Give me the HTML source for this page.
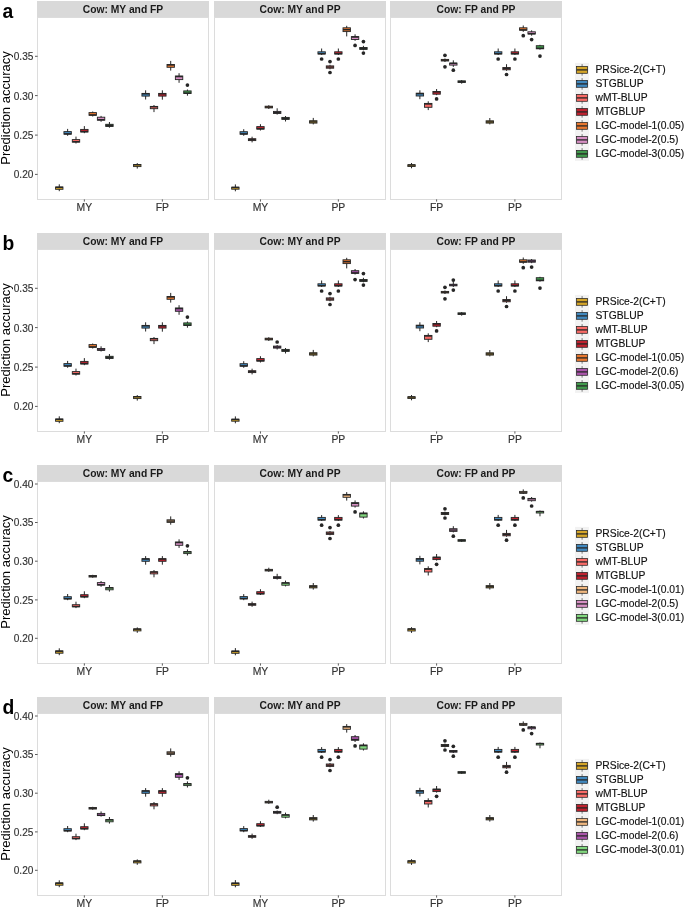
<!DOCTYPE html>
<html><head><meta charset="utf-8"><style>
html,body{margin:0;padding:0;background:#fff;}
svg{display:block;font-family:"Liberation Sans",sans-serif;will-change:transform;}
</style></head><body>
<svg width="685" height="908" viewBox="0 0 685 908">
<rect width="685" height="908" fill="#FFFFFF"/>
<text transform="translate(2.6 18.3) scale(1.0 1)" font-size="19.3" font-weight="bold" fill="#000">a</text>
<text transform="translate(10.2 108.0) rotate(-90)" text-anchor="middle" font-size="13" fill="#000">Prediction accuracy</text>
<rect x="37" y="1" width="172" height="16.5" fill="#D9D9D9"/>
<text x="123.0" y="12.9" text-anchor="middle" font-size="10.3" font-weight="bold" fill="#1A1A1A">Cow: MY and FP</text>
<rect x="37.5" y="17.5" width="171" height="182.0" fill="#FFF" stroke="#DCDCDC" stroke-width="1"/>
<line x1="84.35" y1="199.4" x2="84.35" y2="201.6" stroke="#333" stroke-width="0.8"/>
<text x="84.35" y="210.7" text-anchor="middle" font-size="10.4" fill="#333" stroke="#333" stroke-width="0.15">MY</text>
<line x1="162.35" y1="199.4" x2="162.35" y2="201.6" stroke="#333" stroke-width="0.8"/>
<text x="162.35" y="210.7" text-anchor="middle" font-size="10.4" fill="#333" stroke="#333" stroke-width="0.15">FP</text>
<line x1="59.27" y1="184.3" x2="59.27" y2="191.2" stroke="#262626" stroke-width="1.0"/>
<rect x="55.57" y="187.00" width="7.4" height="2.30" fill="#D4A528" stroke="#262626" stroke-width="0.9"/>
<line x1="55.62" y1="187.32" x2="62.92" y2="187.32" stroke="#262626" stroke-width="1.4"/>
<line x1="67.63" y1="128.9" x2="67.63" y2="135.8" stroke="#262626" stroke-width="1.0"/>
<rect x="63.93" y="131.60" width="7.4" height="2.60" fill="#4088BE" stroke="#262626" stroke-width="0.9"/>
<line x1="63.98" y1="133.80" x2="71.28" y2="133.80" stroke="#262626" stroke-width="1.4"/>
<line x1="75.99" y1="136.6" x2="75.99" y2="143.5" stroke="#262626" stroke-width="1.0"/>
<rect x="72.29" y="139.60" width="7.4" height="2.50" fill="#F96A66" stroke="#262626" stroke-width="0.9"/>
<line x1="72.34" y1="141.72" x2="79.64" y2="141.72" stroke="#262626" stroke-width="1.4"/>
<line x1="84.35" y1="126.1" x2="84.35" y2="133.2" stroke="#262626" stroke-width="1.0"/>
<rect x="80.65" y="129.40" width="7.4" height="2.60" fill="#BF212E" stroke="#262626" stroke-width="0.9"/>
<line x1="80.70" y1="131.60" x2="88.00" y2="131.60" stroke="#262626" stroke-width="1.4"/>
<line x1="92.71" y1="111.5" x2="92.71" y2="116.5" stroke="#262626" stroke-width="1.0"/>
<rect x="89.01" y="112.60" width="7.4" height="2.70" fill="#E7772F" stroke="#262626" stroke-width="0.9"/>
<line x1="89.06" y1="114.88" x2="96.36" y2="114.88" stroke="#262626" stroke-width="1.4"/>
<line x1="101.07" y1="115.9" x2="101.07" y2="121.8" stroke="#262626" stroke-width="1.0"/>
<rect x="97.37" y="117.20" width="7.4" height="3.00" fill="#D68FC3" stroke="#262626" stroke-width="0.9"/>
<line x1="97.42" y1="119.70" x2="104.72" y2="119.70" stroke="#262626" stroke-width="1.4"/>
<line x1="109.43" y1="122.0" x2="109.43" y2="127.7" stroke="#262626" stroke-width="1.0"/>
<rect x="105.73" y="124.30" width="7.4" height="2.20" fill="#40994B" stroke="#262626" stroke-width="0.9"/>
<line x1="105.78" y1="125.40" x2="113.08" y2="125.40" stroke="#262626" stroke-width="1.4"/>
<line x1="137.27" y1="163.1" x2="137.27" y2="168.6" stroke="#262626" stroke-width="1.0"/>
<rect x="133.57" y="164.50" width="7.4" height="2.10" fill="#D4A528" stroke="#262626" stroke-width="0.9"/>
<line x1="133.62" y1="164.78" x2="140.92" y2="164.78" stroke="#262626" stroke-width="1.4"/>
<line x1="145.63" y1="90.3" x2="145.63" y2="99.5" stroke="#262626" stroke-width="1.0"/>
<rect x="141.93" y="93.40" width="7.4" height="2.70" fill="#4088BE" stroke="#262626" stroke-width="0.9"/>
<line x1="141.98" y1="93.83" x2="149.28" y2="93.83" stroke="#262626" stroke-width="1.4"/>
<line x1="153.99" y1="105.0" x2="153.99" y2="112.1" stroke="#262626" stroke-width="1.0"/>
<rect x="150.29" y="106.40" width="7.4" height="2.30" fill="#F96A66" stroke="#262626" stroke-width="0.9"/>
<line x1="150.34" y1="106.73" x2="157.64" y2="106.73" stroke="#262626" stroke-width="1.4"/>
<line x1="162.35" y1="90.3" x2="162.35" y2="99.7" stroke="#262626" stroke-width="1.0"/>
<rect x="158.65" y="93.40" width="7.4" height="2.70" fill="#BF212E" stroke="#262626" stroke-width="0.9"/>
<line x1="158.70" y1="93.83" x2="166.00" y2="93.83" stroke="#262626" stroke-width="1.4"/>
<line x1="170.71" y1="60.9" x2="170.71" y2="70.6" stroke="#262626" stroke-width="1.0"/>
<rect x="167.01" y="64.50" width="7.4" height="2.80" fill="#E7772F" stroke="#262626" stroke-width="0.9"/>
<line x1="167.06" y1="64.95" x2="174.36" y2="64.95" stroke="#262626" stroke-width="1.4"/>
<line x1="179.07" y1="73.2" x2="179.07" y2="82.8" stroke="#262626" stroke-width="1.0"/>
<rect x="175.37" y="76.00" width="7.4" height="3.60" fill="#D68FC3" stroke="#262626" stroke-width="0.9"/>
<line x1="175.42" y1="76.60" x2="182.72" y2="76.60" stroke="#262626" stroke-width="1.4"/>
<line x1="187.43" y1="89.5" x2="187.43" y2="95.7" stroke="#262626" stroke-width="1.0"/>
<rect x="183.73" y="90.90" width="7.4" height="2.60" fill="#40994B" stroke="#262626" stroke-width="0.9"/>
<line x1="183.78" y1="93.10" x2="191.08" y2="93.10" stroke="#262626" stroke-width="1.4"/>
<circle cx="187.43" cy="85.1" r="1.85" fill="#262626"/>
<rect x="214" y="1" width="172" height="16.5" fill="#D9D9D9"/>
<text x="300.0" y="12.9" text-anchor="middle" font-size="10.3" font-weight="bold" fill="#1A1A1A">Cow: MY and PP</text>
<rect x="214.5" y="17.5" width="171" height="182.0" fill="#FFF" stroke="#DCDCDC" stroke-width="1"/>
<line x1="260.45" y1="199.4" x2="260.45" y2="201.6" stroke="#333" stroke-width="0.8"/>
<text x="260.45" y="210.7" text-anchor="middle" font-size="10.4" fill="#333" stroke="#333" stroke-width="0.15">MY</text>
<line x1="338.35" y1="199.4" x2="338.35" y2="201.6" stroke="#333" stroke-width="0.8"/>
<text x="338.35" y="210.7" text-anchor="middle" font-size="10.4" fill="#333" stroke="#333" stroke-width="0.15">PP</text>
<line x1="235.37" y1="184.4" x2="235.37" y2="191.3" stroke="#262626" stroke-width="1.0"/>
<rect x="231.67" y="187.20" width="7.4" height="2.00" fill="#D4A528" stroke="#262626" stroke-width="0.9"/>
<line x1="231.72" y1="187.45" x2="239.02" y2="187.45" stroke="#262626" stroke-width="1.4"/>
<line x1="243.73" y1="129.2" x2="243.73" y2="135.8" stroke="#262626" stroke-width="1.0"/>
<rect x="240.03" y="131.70" width="7.4" height="2.50" fill="#4088BE" stroke="#262626" stroke-width="0.9"/>
<line x1="240.08" y1="133.82" x2="247.38" y2="133.82" stroke="#262626" stroke-width="1.4"/>
<line x1="252.09" y1="136.7" x2="252.09" y2="142.4" stroke="#262626" stroke-width="1.0"/>
<rect x="248.39" y="138.70" width="7.4" height="1.90" fill="#F96A66" stroke="#262626" stroke-width="0.9"/>
<line x1="248.44" y1="139.65" x2="255.74" y2="139.65" stroke="#262626" stroke-width="1.4"/>
<line x1="260.45" y1="124.2" x2="260.45" y2="130.5" stroke="#262626" stroke-width="1.0"/>
<rect x="256.75" y="126.60" width="7.4" height="2.50" fill="#BF212E" stroke="#262626" stroke-width="0.9"/>
<line x1="256.80" y1="128.72" x2="264.10" y2="128.72" stroke="#262626" stroke-width="1.4"/>
<line x1="268.81" y1="105.2" x2="268.81" y2="109.0" stroke="#262626" stroke-width="1.0"/>
<rect x="265.11" y="106.20" width="7.4" height="1.70" fill="#E7772F" stroke="#262626" stroke-width="0.9"/>
<line x1="265.16" y1="107.05" x2="272.46" y2="107.05" stroke="#262626" stroke-width="1.4"/>
<line x1="277.17" y1="108.3" x2="277.17" y2="114.6" stroke="#262626" stroke-width="1.0"/>
<rect x="273.47" y="111.40" width="7.4" height="2.10" fill="#D68FC3" stroke="#262626" stroke-width="0.9"/>
<line x1="273.52" y1="112.45" x2="280.82" y2="112.45" stroke="#262626" stroke-width="1.4"/>
<line x1="285.53" y1="116.0" x2="285.53" y2="121.5" stroke="#262626" stroke-width="1.0"/>
<rect x="281.83" y="117.40" width="7.4" height="2.00" fill="#40994B" stroke="#262626" stroke-width="0.9"/>
<line x1="281.88" y1="118.40" x2="289.18" y2="118.40" stroke="#262626" stroke-width="1.4"/>
<line x1="313.27" y1="117.9" x2="313.27" y2="124.4" stroke="#262626" stroke-width="1.0"/>
<rect x="309.57" y="120.70" width="7.4" height="2.40" fill="#D4A528" stroke="#262626" stroke-width="0.9"/>
<line x1="309.62" y1="121.90" x2="316.92" y2="121.90" stroke="#262626" stroke-width="1.4"/>
<line x1="321.63" y1="48.5" x2="321.63" y2="55.0" stroke="#262626" stroke-width="1.0"/>
<rect x="317.93" y="51.80" width="7.4" height="2.20" fill="#4088BE" stroke="#262626" stroke-width="0.9"/>
<line x1="317.98" y1="53.70" x2="325.28" y2="53.70" stroke="#262626" stroke-width="1.4"/>
<circle cx="321.63" cy="59.0" r="1.85" fill="#262626"/>
<line x1="329.99" y1="64.8" x2="329.99" y2="69.3" stroke="#262626" stroke-width="1.0"/>
<rect x="326.29" y="65.90" width="7.4" height="2.30" fill="#F96A66" stroke="#262626" stroke-width="0.9"/>
<line x1="326.34" y1="67.05" x2="333.64" y2="67.05" stroke="#262626" stroke-width="1.4"/>
<circle cx="329.99" cy="61.6" r="1.85" fill="#262626"/>
<circle cx="329.99" cy="72.5" r="1.85" fill="#262626"/>
<line x1="338.35" y1="48.5" x2="338.35" y2="55.0" stroke="#262626" stroke-width="1.0"/>
<rect x="334.65" y="51.80" width="7.4" height="2.20" fill="#BF212E" stroke="#262626" stroke-width="0.9"/>
<line x1="334.70" y1="53.70" x2="342.00" y2="53.70" stroke="#262626" stroke-width="1.4"/>
<circle cx="338.35" cy="59.0" r="1.85" fill="#262626"/>
<line x1="346.71" y1="25.8" x2="346.71" y2="36.4" stroke="#262626" stroke-width="1.0"/>
<rect x="343.01" y="27.80" width="7.4" height="3.80" fill="#E7772F" stroke="#262626" stroke-width="0.9"/>
<line x1="343.06" y1="29.70" x2="350.36" y2="29.70" stroke="#262626" stroke-width="1.4"/>
<line x1="355.07" y1="34.3" x2="355.07" y2="40.8" stroke="#262626" stroke-width="1.0"/>
<rect x="351.37" y="36.60" width="7.4" height="2.90" fill="#D68FC3" stroke="#262626" stroke-width="0.9"/>
<line x1="351.42" y1="37.08" x2="358.72" y2="37.08" stroke="#262626" stroke-width="1.4"/>
<circle cx="355.07" cy="45.4" r="1.85" fill="#262626"/>
<line x1="363.43" y1="45.8" x2="363.43" y2="50.3" stroke="#262626" stroke-width="1.0"/>
<rect x="359.73" y="47.50" width="7.4" height="1.90" fill="#40994B" stroke="#262626" stroke-width="0.9"/>
<line x1="359.78" y1="48.45" x2="367.08" y2="48.45" stroke="#262626" stroke-width="1.4"/>
<circle cx="363.43" cy="41.6" r="1.85" fill="#262626"/>
<circle cx="363.43" cy="53.1" r="1.85" fill="#262626"/>
<rect x="390" y="1" width="172" height="16.5" fill="#D9D9D9"/>
<text x="476.0" y="12.9" text-anchor="middle" font-size="10.3" font-weight="bold" fill="#1A1A1A">Cow: FP and PP</text>
<rect x="390.5" y="17.5" width="171" height="182.0" fill="#FFF" stroke="#DCDCDC" stroke-width="1"/>
<line x1="436.60" y1="199.4" x2="436.60" y2="201.6" stroke="#333" stroke-width="0.8"/>
<text x="436.60" y="210.7" text-anchor="middle" font-size="10.4" fill="#333" stroke="#333" stroke-width="0.15">FP</text>
<line x1="514.90" y1="199.4" x2="514.90" y2="201.6" stroke="#333" stroke-width="0.8"/>
<text x="514.90" y="210.7" text-anchor="middle" font-size="10.4" fill="#333" stroke="#333" stroke-width="0.15">PP</text>
<line x1="411.52" y1="163.0" x2="411.52" y2="168.3" stroke="#262626" stroke-width="1.0"/>
<rect x="407.82" y="164.80" width="7.4" height="1.70" fill="#D4A528" stroke="#262626" stroke-width="0.9"/>
<line x1="407.87" y1="164.98" x2="415.17" y2="164.98" stroke="#262626" stroke-width="1.4"/>
<line x1="419.88" y1="90.3" x2="419.88" y2="99.2" stroke="#262626" stroke-width="1.0"/>
<rect x="416.18" y="93.20" width="7.4" height="2.80" fill="#4088BE" stroke="#262626" stroke-width="0.9"/>
<line x1="416.23" y1="93.65" x2="423.53" y2="93.65" stroke="#262626" stroke-width="1.4"/>
<line x1="428.24" y1="101.3" x2="428.24" y2="110.1" stroke="#262626" stroke-width="1.0"/>
<rect x="424.54" y="103.40" width="7.4" height="3.90" fill="#F96A66" stroke="#262626" stroke-width="0.9"/>
<line x1="424.59" y1="104.00" x2="431.89" y2="104.00" stroke="#262626" stroke-width="1.4"/>
<line x1="436.60" y1="89.0" x2="436.60" y2="95.2" stroke="#262626" stroke-width="1.0"/>
<rect x="432.90" y="91.50" width="7.4" height="2.70" fill="#BF212E" stroke="#262626" stroke-width="0.9"/>
<line x1="432.95" y1="91.92" x2="440.25" y2="91.92" stroke="#262626" stroke-width="1.4"/>
<circle cx="436.60" cy="98.9" r="1.85" fill="#262626"/>
<line x1="444.96" y1="58.5" x2="444.96" y2="62.0" stroke="#262626" stroke-width="1.0"/>
<rect x="441.26" y="59.40" width="7.4" height="1.60" fill="#E7772F" stroke="#262626" stroke-width="0.9"/>
<line x1="441.31" y1="60.20" x2="448.61" y2="60.20" stroke="#262626" stroke-width="1.4"/>
<circle cx="444.96" cy="55.3" r="1.85" fill="#262626"/>
<circle cx="444.96" cy="66.8" r="1.85" fill="#262626"/>
<line x1="453.32" y1="60.3" x2="453.32" y2="66.9" stroke="#262626" stroke-width="1.0"/>
<rect x="449.62" y="63.10" width="7.4" height="2.00" fill="#D68FC3" stroke="#262626" stroke-width="0.9"/>
<line x1="449.67" y1="63.35" x2="456.97" y2="63.35" stroke="#262626" stroke-width="1.4"/>
<circle cx="453.32" cy="70.2" r="1.85" fill="#262626"/>
<line x1="461.68" y1="80.0" x2="461.68" y2="83.7" stroke="#262626" stroke-width="1.0"/>
<rect x="457.98" y="80.85" width="7.4" height="1.60" fill="#40994B" stroke="#262626" stroke-width="0.9"/>
<line x1="458.03" y1="81.65" x2="465.33" y2="81.65" stroke="#262626" stroke-width="1.4"/>
<line x1="489.82" y1="118.0" x2="489.82" y2="124.4" stroke="#262626" stroke-width="1.0"/>
<rect x="486.12" y="120.80" width="7.4" height="2.30" fill="#D4A528" stroke="#262626" stroke-width="0.9"/>
<line x1="486.17" y1="121.95" x2="493.47" y2="121.95" stroke="#262626" stroke-width="1.4"/>
<line x1="498.18" y1="48.5" x2="498.18" y2="55.0" stroke="#262626" stroke-width="1.0"/>
<rect x="494.48" y="51.80" width="7.4" height="2.20" fill="#4088BE" stroke="#262626" stroke-width="0.9"/>
<line x1="494.53" y1="53.70" x2="501.83" y2="53.70" stroke="#262626" stroke-width="1.4"/>
<circle cx="498.18" cy="59.0" r="1.85" fill="#262626"/>
<line x1="506.54" y1="64.2" x2="506.54" y2="70.8" stroke="#262626" stroke-width="1.0"/>
<rect x="502.84" y="67.50" width="7.4" height="2.30" fill="#F96A66" stroke="#262626" stroke-width="0.9"/>
<line x1="502.89" y1="68.65" x2="510.19" y2="68.65" stroke="#262626" stroke-width="1.4"/>
<circle cx="506.54" cy="74.5" r="1.85" fill="#262626"/>
<line x1="514.90" y1="48.5" x2="514.90" y2="55.0" stroke="#262626" stroke-width="1.0"/>
<rect x="511.20" y="51.80" width="7.4" height="2.20" fill="#BF212E" stroke="#262626" stroke-width="0.9"/>
<line x1="511.25" y1="53.70" x2="518.55" y2="53.70" stroke="#262626" stroke-width="1.4"/>
<circle cx="514.90" cy="59.0" r="1.85" fill="#262626"/>
<line x1="523.26" y1="25.5" x2="523.26" y2="31.8" stroke="#262626" stroke-width="1.0"/>
<rect x="519.56" y="27.80" width="7.4" height="2.40" fill="#E7772F" stroke="#262626" stroke-width="0.9"/>
<line x1="519.61" y1="29.85" x2="526.91" y2="29.85" stroke="#262626" stroke-width="1.4"/>
<circle cx="523.26" cy="35.7" r="1.85" fill="#262626"/>
<line x1="531.62" y1="30.3" x2="531.62" y2="35.7" stroke="#262626" stroke-width="1.0"/>
<rect x="527.92" y="31.80" width="7.4" height="2.20" fill="#D68FC3" stroke="#262626" stroke-width="0.9"/>
<line x1="527.97" y1="33.70" x2="535.27" y2="33.70" stroke="#262626" stroke-width="1.4"/>
<circle cx="531.62" cy="39.6" r="1.85" fill="#262626"/>
<line x1="539.98" y1="44.8" x2="539.98" y2="49.7" stroke="#262626" stroke-width="1.0"/>
<rect x="536.28" y="45.70" width="7.4" height="3.10" fill="#40994B" stroke="#262626" stroke-width="0.9"/>
<line x1="536.33" y1="48.27" x2="543.63" y2="48.27" stroke="#262626" stroke-width="1.4"/>
<circle cx="539.98" cy="56.1" r="1.85" fill="#262626"/>
<line x1="35" y1="174.4" x2="37.6" y2="174.4" stroke="#333" stroke-width="0.8"/>
<text x="33.4" y="178.35" text-anchor="end" font-size="10.1" fill="#333" stroke="#333" stroke-width="0.15">0.20</text>
<line x1="35" y1="135.1" x2="37.6" y2="135.1" stroke="#333" stroke-width="0.8"/>
<text x="33.4" y="139.05" text-anchor="end" font-size="10.1" fill="#333" stroke="#333" stroke-width="0.15">0.25</text>
<line x1="35" y1="95.6" x2="37.6" y2="95.6" stroke="#333" stroke-width="0.8"/>
<text x="33.4" y="99.55" text-anchor="end" font-size="10.1" fill="#333" stroke="#333" stroke-width="0.15">0.30</text>
<line x1="35" y1="56.3" x2="37.6" y2="56.3" stroke="#333" stroke-width="0.8"/>
<text x="33.4" y="60.25" text-anchor="end" font-size="10.1" fill="#333" stroke="#333" stroke-width="0.15">0.35</text>
<rect x="575" y="62.9" width="14" height="14" fill="#F2F2F2"/>
<line x1="582.1" y1="64.1" x2="582.1" y2="75.7" stroke="#555" stroke-width="0.75"/>
<rect x="576.6" y="66.4" width="11" height="6.9" fill="#D4A528" stroke="#262626" stroke-width="0.75"/>
<line x1="576.6" y1="69.9" x2="587.6" y2="69.9" stroke="#262626" stroke-width="1.3"/>
<text x="595.5" y="73.05" font-size="10.3" fill="#111" stroke="#111" stroke-width="0.15">PRSice-2(C+T)</text>
<rect x="575" y="76.9" width="14" height="14" fill="#F2F2F2"/>
<line x1="582.1" y1="78.1" x2="582.1" y2="89.7" stroke="#555" stroke-width="0.75"/>
<rect x="576.6" y="80.4" width="11" height="6.9" fill="#4088BE" stroke="#262626" stroke-width="0.75"/>
<line x1="576.6" y1="83.9" x2="587.6" y2="83.9" stroke="#262626" stroke-width="1.3"/>
<text x="595.5" y="87.05" font-size="10.3" fill="#111" stroke="#111" stroke-width="0.15">STGBLUP</text>
<rect x="575" y="90.9" width="14" height="14" fill="#F2F2F2"/>
<line x1="582.1" y1="92.1" x2="582.1" y2="103.7" stroke="#555" stroke-width="0.75"/>
<rect x="576.6" y="94.4" width="11" height="6.9" fill="#F96A66" stroke="#262626" stroke-width="0.75"/>
<line x1="576.6" y1="97.9" x2="587.6" y2="97.9" stroke="#262626" stroke-width="1.3"/>
<text x="595.5" y="101.05" font-size="10.3" fill="#111" stroke="#111" stroke-width="0.15">wMT-BLUP</text>
<rect x="575" y="104.9" width="14" height="14" fill="#F2F2F2"/>
<line x1="582.1" y1="106.1" x2="582.1" y2="117.7" stroke="#555" stroke-width="0.75"/>
<rect x="576.6" y="108.4" width="11" height="6.9" fill="#BF212E" stroke="#262626" stroke-width="0.75"/>
<line x1="576.6" y1="111.9" x2="587.6" y2="111.9" stroke="#262626" stroke-width="1.3"/>
<text x="595.5" y="115.05" font-size="10.3" fill="#111" stroke="#111" stroke-width="0.15">MTGBLUP</text>
<rect x="575" y="118.9" width="14" height="14" fill="#F2F2F2"/>
<line x1="582.1" y1="120.1" x2="582.1" y2="131.7" stroke="#555" stroke-width="0.75"/>
<rect x="576.6" y="122.4" width="11" height="6.9" fill="#E7772F" stroke="#262626" stroke-width="0.75"/>
<line x1="576.6" y1="125.9" x2="587.6" y2="125.9" stroke="#262626" stroke-width="1.3"/>
<text x="595.5" y="129.05" font-size="10.3" fill="#111" stroke="#111" stroke-width="0.15">LGC-model-1(0.05)</text>
<rect x="575" y="132.9" width="14" height="14" fill="#F2F2F2"/>
<line x1="582.1" y1="134.1" x2="582.1" y2="145.7" stroke="#555" stroke-width="0.75"/>
<rect x="576.6" y="136.4" width="11" height="6.9" fill="#D68FC3" stroke="#262626" stroke-width="0.75"/>
<line x1="576.6" y1="139.9" x2="587.6" y2="139.9" stroke="#262626" stroke-width="1.3"/>
<text x="595.5" y="143.05" font-size="10.3" fill="#111" stroke="#111" stroke-width="0.15">LGC-model-2(0.5)</text>
<rect x="575" y="146.9" width="14" height="14" fill="#F2F2F2"/>
<line x1="582.1" y1="148.1" x2="582.1" y2="159.7" stroke="#555" stroke-width="0.75"/>
<rect x="576.6" y="150.4" width="11" height="6.9" fill="#40994B" stroke="#262626" stroke-width="0.75"/>
<line x1="576.6" y1="153.9" x2="587.6" y2="153.9" stroke="#262626" stroke-width="1.3"/>
<text x="595.5" y="157.05" font-size="10.3" fill="#111" stroke="#111" stroke-width="0.15">LGC-model-3(0.05)</text>
<text transform="translate(2.6 250.3) scale(1.0 1)" font-size="19.3" font-weight="bold" fill="#000">b</text>
<text transform="translate(10.2 340.0) rotate(-90)" text-anchor="middle" font-size="13" fill="#000">Prediction accuracy</text>
<rect x="37" y="233" width="172" height="16.5" fill="#D9D9D9"/>
<text x="123.0" y="244.9" text-anchor="middle" font-size="10.3" font-weight="bold" fill="#1A1A1A">Cow: MY and FP</text>
<rect x="37.5" y="249.5" width="171" height="182.0" fill="#FFF" stroke="#DCDCDC" stroke-width="1"/>
<line x1="84.35" y1="431.4" x2="84.35" y2="433.6" stroke="#333" stroke-width="0.8"/>
<text x="84.35" y="442.7" text-anchor="middle" font-size="10.4" fill="#333" stroke="#333" stroke-width="0.15">MY</text>
<line x1="162.35" y1="431.4" x2="162.35" y2="433.6" stroke="#333" stroke-width="0.8"/>
<text x="162.35" y="442.7" text-anchor="middle" font-size="10.4" fill="#333" stroke="#333" stroke-width="0.15">FP</text>
<line x1="59.27" y1="416.3" x2="59.27" y2="423.2" stroke="#262626" stroke-width="1.0"/>
<rect x="55.57" y="419.00" width="7.4" height="2.30" fill="#D4A528" stroke="#262626" stroke-width="0.9"/>
<line x1="55.62" y1="419.32" x2="62.92" y2="419.32" stroke="#262626" stroke-width="1.4"/>
<line x1="67.63" y1="360.9" x2="67.63" y2="367.8" stroke="#262626" stroke-width="1.0"/>
<rect x="63.93" y="363.60" width="7.4" height="2.60" fill="#4088BE" stroke="#262626" stroke-width="0.9"/>
<line x1="63.98" y1="365.80" x2="71.28" y2="365.80" stroke="#262626" stroke-width="1.4"/>
<line x1="75.99" y1="368.6" x2="75.99" y2="375.5" stroke="#262626" stroke-width="1.0"/>
<rect x="72.29" y="371.60" width="7.4" height="2.50" fill="#F96A66" stroke="#262626" stroke-width="0.9"/>
<line x1="72.34" y1="373.73" x2="79.64" y2="373.73" stroke="#262626" stroke-width="1.4"/>
<line x1="84.35" y1="358.1" x2="84.35" y2="365.2" stroke="#262626" stroke-width="1.0"/>
<rect x="80.65" y="361.40" width="7.4" height="2.60" fill="#BF212E" stroke="#262626" stroke-width="0.9"/>
<line x1="80.70" y1="363.60" x2="88.00" y2="363.60" stroke="#262626" stroke-width="1.4"/>
<line x1="92.71" y1="343.5" x2="92.71" y2="348.5" stroke="#262626" stroke-width="1.0"/>
<rect x="89.01" y="344.60" width="7.4" height="2.70" fill="#E7772F" stroke="#262626" stroke-width="0.9"/>
<line x1="89.06" y1="346.88" x2="96.36" y2="346.88" stroke="#262626" stroke-width="1.4"/>
<line x1="101.07" y1="346.3" x2="101.07" y2="351.5" stroke="#262626" stroke-width="1.0"/>
<rect x="97.37" y="348.50" width="7.4" height="1.70" fill="#AA55AA" stroke="#262626" stroke-width="0.9"/>
<line x1="97.42" y1="350.02" x2="104.72" y2="350.02" stroke="#262626" stroke-width="1.4"/>
<line x1="109.43" y1="354.0" x2="109.43" y2="359.7" stroke="#262626" stroke-width="1.0"/>
<rect x="105.73" y="356.30" width="7.4" height="2.20" fill="#40994B" stroke="#262626" stroke-width="0.9"/>
<line x1="105.78" y1="357.40" x2="113.08" y2="357.40" stroke="#262626" stroke-width="1.4"/>
<line x1="137.27" y1="395.1" x2="137.27" y2="400.6" stroke="#262626" stroke-width="1.0"/>
<rect x="133.57" y="396.50" width="7.4" height="2.10" fill="#D4A528" stroke="#262626" stroke-width="0.9"/>
<line x1="133.62" y1="396.77" x2="140.92" y2="396.77" stroke="#262626" stroke-width="1.4"/>
<line x1="145.63" y1="322.3" x2="145.63" y2="331.5" stroke="#262626" stroke-width="1.0"/>
<rect x="141.93" y="325.40" width="7.4" height="2.70" fill="#4088BE" stroke="#262626" stroke-width="0.9"/>
<line x1="141.98" y1="325.82" x2="149.28" y2="325.82" stroke="#262626" stroke-width="1.4"/>
<line x1="153.99" y1="337.0" x2="153.99" y2="344.1" stroke="#262626" stroke-width="1.0"/>
<rect x="150.29" y="338.40" width="7.4" height="2.30" fill="#F96A66" stroke="#262626" stroke-width="0.9"/>
<line x1="150.34" y1="338.72" x2="157.64" y2="338.72" stroke="#262626" stroke-width="1.4"/>
<line x1="162.35" y1="322.3" x2="162.35" y2="331.7" stroke="#262626" stroke-width="1.0"/>
<rect x="158.65" y="325.40" width="7.4" height="2.70" fill="#BF212E" stroke="#262626" stroke-width="0.9"/>
<line x1="158.70" y1="325.82" x2="166.00" y2="325.82" stroke="#262626" stroke-width="1.4"/>
<line x1="170.71" y1="292.9" x2="170.71" y2="302.6" stroke="#262626" stroke-width="1.0"/>
<rect x="167.01" y="296.50" width="7.4" height="2.80" fill="#E7772F" stroke="#262626" stroke-width="0.9"/>
<line x1="167.06" y1="296.95" x2="174.36" y2="296.95" stroke="#262626" stroke-width="1.4"/>
<line x1="179.07" y1="305.2" x2="179.07" y2="314.8" stroke="#262626" stroke-width="1.0"/>
<rect x="175.37" y="308.00" width="7.4" height="3.30" fill="#AA55AA" stroke="#262626" stroke-width="0.9"/>
<line x1="175.42" y1="308.57" x2="182.72" y2="308.57" stroke="#262626" stroke-width="1.4"/>
<line x1="187.43" y1="321.5" x2="187.43" y2="327.7" stroke="#262626" stroke-width="1.0"/>
<rect x="183.73" y="322.90" width="7.4" height="2.60" fill="#40994B" stroke="#262626" stroke-width="0.9"/>
<line x1="183.78" y1="325.10" x2="191.08" y2="325.10" stroke="#262626" stroke-width="1.4"/>
<circle cx="187.43" cy="317.1" r="1.85" fill="#262626"/>
<rect x="214" y="233" width="172" height="16.5" fill="#D9D9D9"/>
<text x="300.0" y="244.9" text-anchor="middle" font-size="10.3" font-weight="bold" fill="#1A1A1A">Cow: MY and PP</text>
<rect x="214.5" y="249.5" width="171" height="182.0" fill="#FFF" stroke="#DCDCDC" stroke-width="1"/>
<line x1="260.45" y1="431.4" x2="260.45" y2="433.6" stroke="#333" stroke-width="0.8"/>
<text x="260.45" y="442.7" text-anchor="middle" font-size="10.4" fill="#333" stroke="#333" stroke-width="0.15">MY</text>
<line x1="338.35" y1="431.4" x2="338.35" y2="433.6" stroke="#333" stroke-width="0.8"/>
<text x="338.35" y="442.7" text-anchor="middle" font-size="10.4" fill="#333" stroke="#333" stroke-width="0.15">PP</text>
<line x1="235.37" y1="416.4" x2="235.37" y2="423.3" stroke="#262626" stroke-width="1.0"/>
<rect x="231.67" y="419.20" width="7.4" height="2.00" fill="#D4A528" stroke="#262626" stroke-width="0.9"/>
<line x1="231.72" y1="419.45" x2="239.02" y2="419.45" stroke="#262626" stroke-width="1.4"/>
<line x1="243.73" y1="361.2" x2="243.73" y2="367.8" stroke="#262626" stroke-width="1.0"/>
<rect x="240.03" y="363.70" width="7.4" height="2.50" fill="#4088BE" stroke="#262626" stroke-width="0.9"/>
<line x1="240.08" y1="365.82" x2="247.38" y2="365.82" stroke="#262626" stroke-width="1.4"/>
<line x1="252.09" y1="368.7" x2="252.09" y2="374.4" stroke="#262626" stroke-width="1.0"/>
<rect x="248.39" y="370.70" width="7.4" height="1.90" fill="#F96A66" stroke="#262626" stroke-width="0.9"/>
<line x1="248.44" y1="371.65" x2="255.74" y2="371.65" stroke="#262626" stroke-width="1.4"/>
<line x1="260.45" y1="356.2" x2="260.45" y2="362.5" stroke="#262626" stroke-width="1.0"/>
<rect x="256.75" y="358.60" width="7.4" height="2.50" fill="#BF212E" stroke="#262626" stroke-width="0.9"/>
<line x1="256.80" y1="360.73" x2="264.10" y2="360.73" stroke="#262626" stroke-width="1.4"/>
<line x1="268.81" y1="337.2" x2="268.81" y2="341.0" stroke="#262626" stroke-width="1.0"/>
<rect x="265.11" y="338.20" width="7.4" height="1.70" fill="#E7772F" stroke="#262626" stroke-width="0.9"/>
<line x1="265.16" y1="339.05" x2="272.46" y2="339.05" stroke="#262626" stroke-width="1.4"/>
<line x1="277.17" y1="345.0" x2="277.17" y2="349.5" stroke="#262626" stroke-width="1.0"/>
<rect x="273.47" y="346.10" width="7.4" height="2.00" fill="#AA55AA" stroke="#262626" stroke-width="0.9"/>
<line x1="273.52" y1="347.10" x2="280.82" y2="347.10" stroke="#262626" stroke-width="1.4"/>
<circle cx="277.17" cy="342.0" r="1.85" fill="#262626"/>
<line x1="285.53" y1="348.0" x2="285.53" y2="353.5" stroke="#262626" stroke-width="1.0"/>
<rect x="281.83" y="349.40" width="7.4" height="2.00" fill="#40994B" stroke="#262626" stroke-width="0.9"/>
<line x1="281.88" y1="350.40" x2="289.18" y2="350.40" stroke="#262626" stroke-width="1.4"/>
<line x1="313.27" y1="349.9" x2="313.27" y2="356.4" stroke="#262626" stroke-width="1.0"/>
<rect x="309.57" y="352.70" width="7.4" height="2.40" fill="#D4A528" stroke="#262626" stroke-width="0.9"/>
<line x1="309.62" y1="353.90" x2="316.92" y2="353.90" stroke="#262626" stroke-width="1.4"/>
<line x1="321.63" y1="280.5" x2="321.63" y2="287.0" stroke="#262626" stroke-width="1.0"/>
<rect x="317.93" y="283.80" width="7.4" height="2.20" fill="#4088BE" stroke="#262626" stroke-width="0.9"/>
<line x1="317.98" y1="285.70" x2="325.28" y2="285.70" stroke="#262626" stroke-width="1.4"/>
<circle cx="321.63" cy="291.0" r="1.85" fill="#262626"/>
<line x1="329.99" y1="296.8" x2="329.99" y2="301.3" stroke="#262626" stroke-width="1.0"/>
<rect x="326.29" y="297.90" width="7.4" height="2.30" fill="#F96A66" stroke="#262626" stroke-width="0.9"/>
<line x1="326.34" y1="299.05" x2="333.64" y2="299.05" stroke="#262626" stroke-width="1.4"/>
<circle cx="329.99" cy="293.6" r="1.85" fill="#262626"/>
<circle cx="329.99" cy="304.5" r="1.85" fill="#262626"/>
<line x1="338.35" y1="280.5" x2="338.35" y2="287.0" stroke="#262626" stroke-width="1.0"/>
<rect x="334.65" y="283.80" width="7.4" height="2.20" fill="#BF212E" stroke="#262626" stroke-width="0.9"/>
<line x1="334.70" y1="285.70" x2="342.00" y2="285.70" stroke="#262626" stroke-width="1.4"/>
<circle cx="338.35" cy="291.0" r="1.85" fill="#262626"/>
<line x1="346.71" y1="257.8" x2="346.71" y2="268.4" stroke="#262626" stroke-width="1.0"/>
<rect x="343.01" y="259.80" width="7.4" height="3.80" fill="#E7772F" stroke="#262626" stroke-width="0.9"/>
<line x1="343.06" y1="261.70" x2="350.36" y2="261.70" stroke="#262626" stroke-width="1.4"/>
<line x1="355.07" y1="269.0" x2="355.07" y2="274.5" stroke="#262626" stroke-width="1.0"/>
<rect x="351.37" y="270.70" width="7.4" height="2.60" fill="#AA55AA" stroke="#262626" stroke-width="0.9"/>
<line x1="351.42" y1="272.90" x2="358.72" y2="272.90" stroke="#262626" stroke-width="1.4"/>
<circle cx="355.07" cy="279.6" r="1.85" fill="#262626"/>
<line x1="363.43" y1="277.8" x2="363.43" y2="282.3" stroke="#262626" stroke-width="1.0"/>
<rect x="359.73" y="279.50" width="7.4" height="1.90" fill="#40994B" stroke="#262626" stroke-width="0.9"/>
<line x1="359.78" y1="280.45" x2="367.08" y2="280.45" stroke="#262626" stroke-width="1.4"/>
<circle cx="363.43" cy="273.6" r="1.85" fill="#262626"/>
<circle cx="363.43" cy="285.1" r="1.85" fill="#262626"/>
<rect x="390" y="233" width="172" height="16.5" fill="#D9D9D9"/>
<text x="476.0" y="244.9" text-anchor="middle" font-size="10.3" font-weight="bold" fill="#1A1A1A">Cow: FP and PP</text>
<rect x="390.5" y="249.5" width="171" height="182.0" fill="#FFF" stroke="#DCDCDC" stroke-width="1"/>
<line x1="436.60" y1="431.4" x2="436.60" y2="433.6" stroke="#333" stroke-width="0.8"/>
<text x="436.60" y="442.7" text-anchor="middle" font-size="10.4" fill="#333" stroke="#333" stroke-width="0.15">FP</text>
<line x1="514.90" y1="431.4" x2="514.90" y2="433.6" stroke="#333" stroke-width="0.8"/>
<text x="514.90" y="442.7" text-anchor="middle" font-size="10.4" fill="#333" stroke="#333" stroke-width="0.15">PP</text>
<line x1="411.52" y1="395.0" x2="411.52" y2="400.3" stroke="#262626" stroke-width="1.0"/>
<rect x="407.82" y="396.80" width="7.4" height="1.70" fill="#D4A528" stroke="#262626" stroke-width="0.9"/>
<line x1="407.87" y1="396.98" x2="415.17" y2="396.98" stroke="#262626" stroke-width="1.4"/>
<line x1="419.88" y1="322.3" x2="419.88" y2="331.2" stroke="#262626" stroke-width="1.0"/>
<rect x="416.18" y="325.20" width="7.4" height="2.80" fill="#4088BE" stroke="#262626" stroke-width="0.9"/>
<line x1="416.23" y1="325.65" x2="423.53" y2="325.65" stroke="#262626" stroke-width="1.4"/>
<line x1="428.24" y1="333.3" x2="428.24" y2="342.1" stroke="#262626" stroke-width="1.0"/>
<rect x="424.54" y="335.40" width="7.4" height="3.90" fill="#F96A66" stroke="#262626" stroke-width="0.9"/>
<line x1="424.59" y1="336.00" x2="431.89" y2="336.00" stroke="#262626" stroke-width="1.4"/>
<line x1="436.60" y1="321.0" x2="436.60" y2="327.2" stroke="#262626" stroke-width="1.0"/>
<rect x="432.90" y="323.50" width="7.4" height="2.70" fill="#BF212E" stroke="#262626" stroke-width="0.9"/>
<line x1="432.95" y1="323.93" x2="440.25" y2="323.93" stroke="#262626" stroke-width="1.4"/>
<circle cx="436.60" cy="330.9" r="1.85" fill="#262626"/>
<line x1="444.96" y1="290.5" x2="444.96" y2="294.0" stroke="#262626" stroke-width="1.0"/>
<rect x="441.26" y="291.40" width="7.4" height="1.60" fill="#E7772F" stroke="#262626" stroke-width="0.9"/>
<line x1="441.31" y1="292.20" x2="448.61" y2="292.20" stroke="#262626" stroke-width="1.4"/>
<circle cx="444.96" cy="287.3" r="1.85" fill="#262626"/>
<circle cx="444.96" cy="298.8" r="1.85" fill="#262626"/>
<line x1="453.32" y1="281.5" x2="453.32" y2="287.0" stroke="#262626" stroke-width="1.0"/>
<rect x="449.62" y="284.25" width="7.4" height="1.60" fill="#AA55AA" stroke="#262626" stroke-width="0.9"/>
<line x1="449.67" y1="285.05" x2="456.97" y2="285.05" stroke="#262626" stroke-width="1.4"/>
<circle cx="453.32" cy="280.1" r="1.85" fill="#262626"/>
<circle cx="453.32" cy="290.1" r="1.85" fill="#262626"/>
<line x1="461.68" y1="312.0" x2="461.68" y2="315.7" stroke="#262626" stroke-width="1.0"/>
<rect x="457.98" y="312.85" width="7.4" height="1.60" fill="#40994B" stroke="#262626" stroke-width="0.9"/>
<line x1="458.03" y1="313.65" x2="465.33" y2="313.65" stroke="#262626" stroke-width="1.4"/>
<line x1="489.82" y1="350.0" x2="489.82" y2="356.4" stroke="#262626" stroke-width="1.0"/>
<rect x="486.12" y="352.80" width="7.4" height="2.30" fill="#D4A528" stroke="#262626" stroke-width="0.9"/>
<line x1="486.17" y1="353.95" x2="493.47" y2="353.95" stroke="#262626" stroke-width="1.4"/>
<line x1="498.18" y1="280.5" x2="498.18" y2="287.0" stroke="#262626" stroke-width="1.0"/>
<rect x="494.48" y="283.80" width="7.4" height="2.20" fill="#4088BE" stroke="#262626" stroke-width="0.9"/>
<line x1="494.53" y1="285.70" x2="501.83" y2="285.70" stroke="#262626" stroke-width="1.4"/>
<circle cx="498.18" cy="291.0" r="1.85" fill="#262626"/>
<line x1="506.54" y1="296.2" x2="506.54" y2="302.8" stroke="#262626" stroke-width="1.0"/>
<rect x="502.84" y="299.50" width="7.4" height="2.30" fill="#F96A66" stroke="#262626" stroke-width="0.9"/>
<line x1="502.89" y1="300.65" x2="510.19" y2="300.65" stroke="#262626" stroke-width="1.4"/>
<circle cx="506.54" cy="306.5" r="1.85" fill="#262626"/>
<line x1="514.90" y1="280.5" x2="514.90" y2="287.0" stroke="#262626" stroke-width="1.0"/>
<rect x="511.20" y="283.80" width="7.4" height="2.20" fill="#BF212E" stroke="#262626" stroke-width="0.9"/>
<line x1="511.25" y1="285.70" x2="518.55" y2="285.70" stroke="#262626" stroke-width="1.4"/>
<circle cx="514.90" cy="291.0" r="1.85" fill="#262626"/>
<line x1="523.26" y1="257.5" x2="523.26" y2="263.8" stroke="#262626" stroke-width="1.0"/>
<rect x="519.56" y="259.80" width="7.4" height="2.40" fill="#E7772F" stroke="#262626" stroke-width="0.9"/>
<line x1="519.61" y1="261.85" x2="526.91" y2="261.85" stroke="#262626" stroke-width="1.4"/>
<circle cx="523.26" cy="267.7" r="1.85" fill="#262626"/>
<line x1="531.62" y1="259.0" x2="531.62" y2="263.2" stroke="#262626" stroke-width="1.0"/>
<rect x="527.92" y="260.00" width="7.4" height="2.20" fill="#AA55AA" stroke="#262626" stroke-width="0.9"/>
<line x1="527.97" y1="261.10" x2="535.27" y2="261.10" stroke="#262626" stroke-width="1.4"/>
<circle cx="531.62" cy="267.1" r="1.85" fill="#262626"/>
<line x1="539.98" y1="276.8" x2="539.98" y2="281.7" stroke="#262626" stroke-width="1.0"/>
<rect x="536.28" y="277.70" width="7.4" height="3.10" fill="#40994B" stroke="#262626" stroke-width="0.9"/>
<line x1="536.33" y1="280.27" x2="543.63" y2="280.27" stroke="#262626" stroke-width="1.4"/>
<circle cx="539.98" cy="288.1" r="1.85" fill="#262626"/>
<line x1="35" y1="406.4" x2="37.6" y2="406.4" stroke="#333" stroke-width="0.8"/>
<text x="33.4" y="410.35" text-anchor="end" font-size="10.1" fill="#333" stroke="#333" stroke-width="0.15">0.20</text>
<line x1="35" y1="367.1" x2="37.6" y2="367.1" stroke="#333" stroke-width="0.8"/>
<text x="33.4" y="371.05" text-anchor="end" font-size="10.1" fill="#333" stroke="#333" stroke-width="0.15">0.25</text>
<line x1="35" y1="327.6" x2="37.6" y2="327.6" stroke="#333" stroke-width="0.8"/>
<text x="33.4" y="331.55" text-anchor="end" font-size="10.1" fill="#333" stroke="#333" stroke-width="0.15">0.30</text>
<line x1="35" y1="288.3" x2="37.6" y2="288.3" stroke="#333" stroke-width="0.8"/>
<text x="33.4" y="292.25" text-anchor="end" font-size="10.1" fill="#333" stroke="#333" stroke-width="0.15">0.35</text>
<rect x="575" y="294.9" width="14" height="14" fill="#F2F2F2"/>
<line x1="582.1" y1="296.1" x2="582.1" y2="307.7" stroke="#555" stroke-width="0.75"/>
<rect x="576.6" y="298.4" width="11" height="6.9" fill="#D4A528" stroke="#262626" stroke-width="0.75"/>
<line x1="576.6" y1="301.9" x2="587.6" y2="301.9" stroke="#262626" stroke-width="1.3"/>
<text x="595.5" y="305.05" font-size="10.3" fill="#111" stroke="#111" stroke-width="0.15">PRSice-2(C+T)</text>
<rect x="575" y="308.9" width="14" height="14" fill="#F2F2F2"/>
<line x1="582.1" y1="310.1" x2="582.1" y2="321.7" stroke="#555" stroke-width="0.75"/>
<rect x="576.6" y="312.4" width="11" height="6.9" fill="#4088BE" stroke="#262626" stroke-width="0.75"/>
<line x1="576.6" y1="315.9" x2="587.6" y2="315.9" stroke="#262626" stroke-width="1.3"/>
<text x="595.5" y="319.05" font-size="10.3" fill="#111" stroke="#111" stroke-width="0.15">STGBLUP</text>
<rect x="575" y="322.9" width="14" height="14" fill="#F2F2F2"/>
<line x1="582.1" y1="324.1" x2="582.1" y2="335.7" stroke="#555" stroke-width="0.75"/>
<rect x="576.6" y="326.4" width="11" height="6.9" fill="#F96A66" stroke="#262626" stroke-width="0.75"/>
<line x1="576.6" y1="329.9" x2="587.6" y2="329.9" stroke="#262626" stroke-width="1.3"/>
<text x="595.5" y="333.05" font-size="10.3" fill="#111" stroke="#111" stroke-width="0.15">wMT-BLUP</text>
<rect x="575" y="336.9" width="14" height="14" fill="#F2F2F2"/>
<line x1="582.1" y1="338.1" x2="582.1" y2="349.7" stroke="#555" stroke-width="0.75"/>
<rect x="576.6" y="340.4" width="11" height="6.9" fill="#BF212E" stroke="#262626" stroke-width="0.75"/>
<line x1="576.6" y1="343.9" x2="587.6" y2="343.9" stroke="#262626" stroke-width="1.3"/>
<text x="595.5" y="347.05" font-size="10.3" fill="#111" stroke="#111" stroke-width="0.15">MTGBLUP</text>
<rect x="575" y="350.9" width="14" height="14" fill="#F2F2F2"/>
<line x1="582.1" y1="352.1" x2="582.1" y2="363.7" stroke="#555" stroke-width="0.75"/>
<rect x="576.6" y="354.4" width="11" height="6.9" fill="#E7772F" stroke="#262626" stroke-width="0.75"/>
<line x1="576.6" y1="357.9" x2="587.6" y2="357.9" stroke="#262626" stroke-width="1.3"/>
<text x="595.5" y="361.05" font-size="10.3" fill="#111" stroke="#111" stroke-width="0.15">LGC-model-1(0.05)</text>
<rect x="575" y="364.9" width="14" height="14" fill="#F2F2F2"/>
<line x1="582.1" y1="366.1" x2="582.1" y2="377.7" stroke="#555" stroke-width="0.75"/>
<rect x="576.6" y="368.4" width="11" height="6.9" fill="#AA55AA" stroke="#262626" stroke-width="0.75"/>
<line x1="576.6" y1="371.9" x2="587.6" y2="371.9" stroke="#262626" stroke-width="1.3"/>
<text x="595.5" y="375.05" font-size="10.3" fill="#111" stroke="#111" stroke-width="0.15">LGC-model-2(0.6)</text>
<rect x="575" y="378.9" width="14" height="14" fill="#F2F2F2"/>
<line x1="582.1" y1="380.1" x2="582.1" y2="391.7" stroke="#555" stroke-width="0.75"/>
<rect x="576.6" y="382.4" width="11" height="6.9" fill="#40994B" stroke="#262626" stroke-width="0.75"/>
<line x1="576.6" y1="385.9" x2="587.6" y2="385.9" stroke="#262626" stroke-width="1.3"/>
<text x="595.5" y="389.05" font-size="10.3" fill="#111" stroke="#111" stroke-width="0.15">LGC-model-3(0.05)</text>
<text transform="translate(2.6 482.3) scale(1.0 1)" font-size="19.3" font-weight="bold" fill="#000">c</text>
<text transform="translate(10.2 572.0) rotate(-90)" text-anchor="middle" font-size="13" fill="#000">Prediction accuracy</text>
<rect x="37" y="465" width="172" height="16.5" fill="#D9D9D9"/>
<text x="123.0" y="476.9" text-anchor="middle" font-size="10.3" font-weight="bold" fill="#1A1A1A">Cow: MY and FP</text>
<rect x="37.5" y="481.5" width="171" height="182.0" fill="#FFF" stroke="#DCDCDC" stroke-width="1"/>
<line x1="84.35" y1="663.4" x2="84.35" y2="665.6" stroke="#333" stroke-width="0.8"/>
<text x="84.35" y="674.7" text-anchor="middle" font-size="10.4" fill="#333" stroke="#333" stroke-width="0.15">MY</text>
<line x1="162.35" y1="663.4" x2="162.35" y2="665.6" stroke="#333" stroke-width="0.8"/>
<text x="162.35" y="674.7" text-anchor="middle" font-size="10.4" fill="#333" stroke="#333" stroke-width="0.15">FP</text>
<line x1="59.27" y1="648.3" x2="59.27" y2="655.2" stroke="#262626" stroke-width="1.0"/>
<rect x="55.57" y="650.90" width="7.4" height="2.30" fill="#D4A528" stroke="#262626" stroke-width="0.9"/>
<line x1="55.62" y1="651.23" x2="62.92" y2="651.23" stroke="#262626" stroke-width="1.4"/>
<line x1="67.63" y1="594.0" x2="67.63" y2="600.2" stroke="#262626" stroke-width="1.0"/>
<rect x="63.93" y="596.70" width="7.4" height="2.30" fill="#4088BE" stroke="#262626" stroke-width="0.9"/>
<line x1="63.98" y1="598.67" x2="71.28" y2="598.67" stroke="#262626" stroke-width="1.4"/>
<line x1="75.99" y1="601.7" x2="75.99" y2="608.1" stroke="#262626" stroke-width="1.0"/>
<rect x="72.29" y="604.70" width="7.4" height="2.10" fill="#F96A66" stroke="#262626" stroke-width="0.9"/>
<line x1="72.34" y1="606.52" x2="79.64" y2="606.52" stroke="#262626" stroke-width="1.4"/>
<line x1="84.35" y1="591.3" x2="84.35" y2="598.2" stroke="#262626" stroke-width="1.0"/>
<rect x="80.65" y="594.70" width="7.4" height="2.30" fill="#BF212E" stroke="#262626" stroke-width="0.9"/>
<line x1="80.70" y1="596.67" x2="88.00" y2="596.67" stroke="#262626" stroke-width="1.4"/>
<line x1="92.71" y1="574.8" x2="92.71" y2="577.8" stroke="#262626" stroke-width="1.0"/>
<rect x="89.01" y="575.45" width="7.4" height="1.60" fill="#EFB77F" stroke="#262626" stroke-width="0.9"/>
<line x1="89.06" y1="576.25" x2="96.36" y2="576.25" stroke="#262626" stroke-width="1.4"/>
<line x1="101.07" y1="581.0" x2="101.07" y2="586.8" stroke="#262626" stroke-width="1.0"/>
<rect x="97.37" y="582.60" width="7.4" height="2.50" fill="#D68FC3" stroke="#262626" stroke-width="0.9"/>
<line x1="97.42" y1="584.73" x2="104.72" y2="584.73" stroke="#262626" stroke-width="1.4"/>
<line x1="109.43" y1="585.0" x2="109.43" y2="591.6" stroke="#262626" stroke-width="1.0"/>
<rect x="105.73" y="587.60" width="7.4" height="2.20" fill="#81D77E" stroke="#262626" stroke-width="0.9"/>
<line x1="105.78" y1="587.90" x2="113.08" y2="587.90" stroke="#262626" stroke-width="1.4"/>
<line x1="137.27" y1="627.4" x2="137.27" y2="632.8" stroke="#262626" stroke-width="1.0"/>
<rect x="133.57" y="628.90" width="7.4" height="2.00" fill="#D4A528" stroke="#262626" stroke-width="0.9"/>
<line x1="133.62" y1="629.15" x2="140.92" y2="629.15" stroke="#262626" stroke-width="1.4"/>
<line x1="145.63" y1="556.1" x2="145.63" y2="564.7" stroke="#262626" stroke-width="1.0"/>
<rect x="141.93" y="558.70" width="7.4" height="2.60" fill="#4088BE" stroke="#262626" stroke-width="0.9"/>
<line x1="141.98" y1="559.10" x2="149.28" y2="559.10" stroke="#262626" stroke-width="1.4"/>
<line x1="153.99" y1="570.0" x2="153.99" y2="577.3" stroke="#262626" stroke-width="1.0"/>
<rect x="150.29" y="571.80" width="7.4" height="2.10" fill="#F96A66" stroke="#262626" stroke-width="0.9"/>
<line x1="150.34" y1="572.07" x2="157.64" y2="572.07" stroke="#262626" stroke-width="1.4"/>
<line x1="162.35" y1="556.1" x2="162.35" y2="564.7" stroke="#262626" stroke-width="1.0"/>
<rect x="158.65" y="558.70" width="7.4" height="2.60" fill="#BF212E" stroke="#262626" stroke-width="0.9"/>
<line x1="158.70" y1="559.10" x2="166.00" y2="559.10" stroke="#262626" stroke-width="1.4"/>
<line x1="170.71" y1="516.4" x2="170.71" y2="524.7" stroke="#262626" stroke-width="1.0"/>
<rect x="167.01" y="519.80" width="7.4" height="2.60" fill="#EFB77F" stroke="#262626" stroke-width="0.9"/>
<line x1="167.06" y1="521.10" x2="174.36" y2="521.10" stroke="#262626" stroke-width="1.4"/>
<line x1="179.07" y1="539.3" x2="179.07" y2="547.9" stroke="#262626" stroke-width="1.0"/>
<rect x="175.37" y="542.00" width="7.4" height="3.30" fill="#D68FC3" stroke="#262626" stroke-width="0.9"/>
<line x1="175.42" y1="542.58" x2="182.72" y2="542.58" stroke="#262626" stroke-width="1.4"/>
<line x1="187.43" y1="549.4" x2="187.43" y2="555.5" stroke="#262626" stroke-width="1.0"/>
<rect x="183.73" y="551.60" width="7.4" height="2.00" fill="#81D77E" stroke="#262626" stroke-width="0.9"/>
<line x1="183.78" y1="551.85" x2="191.08" y2="551.85" stroke="#262626" stroke-width="1.4"/>
<circle cx="187.43" cy="545.8" r="1.85" fill="#262626"/>
<rect x="214" y="465" width="172" height="16.5" fill="#D9D9D9"/>
<text x="300.0" y="476.9" text-anchor="middle" font-size="10.3" font-weight="bold" fill="#1A1A1A">Cow: MY and PP</text>
<rect x="214.5" y="481.5" width="171" height="182.0" fill="#FFF" stroke="#DCDCDC" stroke-width="1"/>
<line x1="260.45" y1="663.4" x2="260.45" y2="665.6" stroke="#333" stroke-width="0.8"/>
<text x="260.45" y="674.7" text-anchor="middle" font-size="10.4" fill="#333" stroke="#333" stroke-width="0.15">MY</text>
<line x1="338.35" y1="663.4" x2="338.35" y2="665.6" stroke="#333" stroke-width="0.8"/>
<text x="338.35" y="674.7" text-anchor="middle" font-size="10.4" fill="#333" stroke="#333" stroke-width="0.15">PP</text>
<line x1="235.37" y1="648.1" x2="235.37" y2="655.3" stroke="#262626" stroke-width="1.0"/>
<rect x="231.67" y="651.00" width="7.4" height="2.30" fill="#D4A528" stroke="#262626" stroke-width="0.9"/>
<line x1="231.72" y1="651.33" x2="239.02" y2="651.33" stroke="#262626" stroke-width="1.4"/>
<line x1="243.73" y1="594.1" x2="243.73" y2="600.2" stroke="#262626" stroke-width="1.0"/>
<rect x="240.03" y="596.60" width="7.4" height="2.30" fill="#4088BE" stroke="#262626" stroke-width="0.9"/>
<line x1="240.08" y1="598.58" x2="247.38" y2="598.58" stroke="#262626" stroke-width="1.4"/>
<line x1="252.09" y1="601.6" x2="252.09" y2="606.8" stroke="#262626" stroke-width="1.0"/>
<rect x="248.39" y="603.65" width="7.4" height="1.60" fill="#F96A66" stroke="#262626" stroke-width="0.9"/>
<line x1="248.44" y1="604.45" x2="255.74" y2="604.45" stroke="#262626" stroke-width="1.4"/>
<line x1="260.45" y1="589.2" x2="260.45" y2="595.0" stroke="#262626" stroke-width="1.0"/>
<rect x="256.75" y="591.70" width="7.4" height="2.30" fill="#BF212E" stroke="#262626" stroke-width="0.9"/>
<line x1="256.80" y1="593.67" x2="264.10" y2="593.67" stroke="#262626" stroke-width="1.4"/>
<line x1="268.81" y1="567.7" x2="268.81" y2="571.9" stroke="#262626" stroke-width="1.0"/>
<rect x="265.11" y="569.35" width="7.4" height="1.60" fill="#EFB77F" stroke="#262626" stroke-width="0.9"/>
<line x1="265.16" y1="570.15" x2="272.46" y2="570.15" stroke="#262626" stroke-width="1.4"/>
<line x1="277.17" y1="573.8" x2="277.17" y2="579.6" stroke="#262626" stroke-width="1.0"/>
<rect x="273.47" y="576.70" width="7.4" height="1.70" fill="#D68FC3" stroke="#262626" stroke-width="0.9"/>
<line x1="273.52" y1="577.55" x2="280.82" y2="577.55" stroke="#262626" stroke-width="1.4"/>
<line x1="285.53" y1="580.6" x2="285.53" y2="586.4" stroke="#262626" stroke-width="1.0"/>
<rect x="281.83" y="582.70" width="7.4" height="2.50" fill="#81D77E" stroke="#262626" stroke-width="0.9"/>
<line x1="281.88" y1="583.08" x2="289.18" y2="583.08" stroke="#262626" stroke-width="1.4"/>
<line x1="313.27" y1="583.0" x2="313.27" y2="589.6" stroke="#262626" stroke-width="1.0"/>
<rect x="309.57" y="585.60" width="7.4" height="2.30" fill="#D4A528" stroke="#262626" stroke-width="0.9"/>
<line x1="309.62" y1="586.75" x2="316.92" y2="586.75" stroke="#262626" stroke-width="1.4"/>
<line x1="321.63" y1="515.1" x2="321.63" y2="521.0" stroke="#262626" stroke-width="1.0"/>
<rect x="317.93" y="517.40" width="7.4" height="2.70" fill="#4088BE" stroke="#262626" stroke-width="0.9"/>
<line x1="317.98" y1="519.67" x2="325.28" y2="519.67" stroke="#262626" stroke-width="1.4"/>
<circle cx="321.63" cy="525.2" r="1.85" fill="#262626"/>
<line x1="329.99" y1="531.0" x2="329.99" y2="535.3" stroke="#262626" stroke-width="1.0"/>
<rect x="326.29" y="532.00" width="7.4" height="2.40" fill="#F96A66" stroke="#262626" stroke-width="0.9"/>
<line x1="326.34" y1="533.20" x2="333.64" y2="533.20" stroke="#262626" stroke-width="1.4"/>
<circle cx="329.99" cy="527.6" r="1.85" fill="#262626"/>
<circle cx="329.99" cy="538.5" r="1.85" fill="#262626"/>
<line x1="338.35" y1="515.1" x2="338.35" y2="521.0" stroke="#262626" stroke-width="1.0"/>
<rect x="334.65" y="517.40" width="7.4" height="2.70" fill="#BF212E" stroke="#262626" stroke-width="0.9"/>
<line x1="334.70" y1="519.67" x2="342.00" y2="519.67" stroke="#262626" stroke-width="1.4"/>
<circle cx="338.35" cy="525.2" r="1.85" fill="#262626"/>
<line x1="346.71" y1="492.1" x2="346.71" y2="500.6" stroke="#262626" stroke-width="1.0"/>
<rect x="343.01" y="494.40" width="7.4" height="2.90" fill="#EFB77F" stroke="#262626" stroke-width="0.9"/>
<line x1="343.06" y1="494.88" x2="350.36" y2="494.88" stroke="#262626" stroke-width="1.4"/>
<line x1="355.07" y1="500.4" x2="355.07" y2="507.6" stroke="#262626" stroke-width="1.0"/>
<rect x="351.37" y="502.70" width="7.4" height="3.40" fill="#D68FC3" stroke="#262626" stroke-width="0.9"/>
<line x1="351.42" y1="503.30" x2="358.72" y2="503.30" stroke="#262626" stroke-width="1.4"/>
<circle cx="355.07" cy="511.9" r="1.85" fill="#262626"/>
<line x1="363.43" y1="511.3" x2="363.43" y2="518.5" stroke="#262626" stroke-width="1.0"/>
<rect x="359.73" y="513.00" width="7.4" height="4.10" fill="#81D77E" stroke="#262626" stroke-width="0.9"/>
<line x1="359.78" y1="513.60" x2="367.08" y2="513.60" stroke="#262626" stroke-width="1.4"/>
<rect x="390" y="465" width="172" height="16.5" fill="#D9D9D9"/>
<text x="476.0" y="476.9" text-anchor="middle" font-size="10.3" font-weight="bold" fill="#1A1A1A">Cow: FP and PP</text>
<rect x="390.5" y="481.5" width="171" height="182.0" fill="#FFF" stroke="#DCDCDC" stroke-width="1"/>
<line x1="436.60" y1="663.4" x2="436.60" y2="665.6" stroke="#333" stroke-width="0.8"/>
<text x="436.60" y="674.7" text-anchor="middle" font-size="10.4" fill="#333" stroke="#333" stroke-width="0.15">FP</text>
<line x1="514.90" y1="663.4" x2="514.90" y2="665.6" stroke="#333" stroke-width="0.8"/>
<text x="514.90" y="674.7" text-anchor="middle" font-size="10.4" fill="#333" stroke="#333" stroke-width="0.15">PP</text>
<line x1="411.52" y1="627.2" x2="411.52" y2="632.9" stroke="#262626" stroke-width="1.0"/>
<rect x="407.82" y="628.80" width="7.4" height="2.20" fill="#D4A528" stroke="#262626" stroke-width="0.9"/>
<line x1="407.87" y1="629.10" x2="415.17" y2="629.10" stroke="#262626" stroke-width="1.4"/>
<line x1="419.88" y1="555.8" x2="419.88" y2="564.4" stroke="#262626" stroke-width="1.0"/>
<rect x="416.18" y="558.60" width="7.4" height="2.60" fill="#4088BE" stroke="#262626" stroke-width="0.9"/>
<line x1="416.23" y1="559.00" x2="423.53" y2="559.00" stroke="#262626" stroke-width="1.4"/>
<line x1="428.24" y1="566.3" x2="428.24" y2="575.5" stroke="#262626" stroke-width="1.0"/>
<rect x="424.54" y="568.60" width="7.4" height="3.40" fill="#F96A66" stroke="#262626" stroke-width="0.9"/>
<line x1="424.59" y1="569.20" x2="431.89" y2="569.20" stroke="#262626" stroke-width="1.4"/>
<line x1="436.60" y1="554.0" x2="436.60" y2="560.6" stroke="#262626" stroke-width="1.0"/>
<rect x="432.90" y="557.10" width="7.4" height="2.50" fill="#BF212E" stroke="#262626" stroke-width="0.9"/>
<line x1="432.95" y1="557.48" x2="440.25" y2="557.48" stroke="#262626" stroke-width="1.4"/>
<circle cx="436.60" cy="564.3" r="1.85" fill="#262626"/>
<line x1="444.96" y1="511.6" x2="444.96" y2="515.4" stroke="#262626" stroke-width="1.0"/>
<rect x="441.26" y="512.50" width="7.4" height="2.00" fill="#EFB77F" stroke="#262626" stroke-width="0.9"/>
<line x1="441.31" y1="513.50" x2="448.61" y2="513.50" stroke="#262626" stroke-width="1.4"/>
<circle cx="444.96" cy="508.8" r="1.85" fill="#262626"/>
<circle cx="444.96" cy="518.0" r="1.85" fill="#262626"/>
<line x1="453.32" y1="526.2" x2="453.32" y2="532.4" stroke="#262626" stroke-width="1.0"/>
<rect x="449.62" y="528.70" width="7.4" height="2.70" fill="#D68FC3" stroke="#262626" stroke-width="0.9"/>
<line x1="449.67" y1="530.05" x2="456.97" y2="530.05" stroke="#262626" stroke-width="1.4"/>
<circle cx="453.32" cy="536.2" r="1.85" fill="#262626"/>
<line x1="461.68" y1="539.0" x2="461.68" y2="542.0" stroke="#262626" stroke-width="1.0"/>
<rect x="457.98" y="539.65" width="7.4" height="1.60" fill="#81D77E" stroke="#262626" stroke-width="0.9"/>
<line x1="458.03" y1="540.45" x2="465.33" y2="540.45" stroke="#262626" stroke-width="1.4"/>
<line x1="489.82" y1="583.0" x2="489.82" y2="589.6" stroke="#262626" stroke-width="1.0"/>
<rect x="486.12" y="585.60" width="7.4" height="2.30" fill="#D4A528" stroke="#262626" stroke-width="0.9"/>
<line x1="486.17" y1="586.75" x2="493.47" y2="586.75" stroke="#262626" stroke-width="1.4"/>
<line x1="498.18" y1="514.9" x2="498.18" y2="521.0" stroke="#262626" stroke-width="1.0"/>
<rect x="494.48" y="517.40" width="7.4" height="2.70" fill="#4088BE" stroke="#262626" stroke-width="0.9"/>
<line x1="494.53" y1="519.67" x2="501.83" y2="519.67" stroke="#262626" stroke-width="1.4"/>
<circle cx="498.18" cy="525.2" r="1.85" fill="#262626"/>
<line x1="506.54" y1="529.9" x2="506.54" y2="536.8" stroke="#262626" stroke-width="1.0"/>
<rect x="502.84" y="533.40" width="7.4" height="2.40" fill="#F96A66" stroke="#262626" stroke-width="0.9"/>
<line x1="502.89" y1="534.60" x2="510.19" y2="534.60" stroke="#262626" stroke-width="1.4"/>
<circle cx="506.54" cy="540.2" r="1.85" fill="#262626"/>
<line x1="514.90" y1="514.9" x2="514.90" y2="521.0" stroke="#262626" stroke-width="1.0"/>
<rect x="511.20" y="517.40" width="7.4" height="2.70" fill="#BF212E" stroke="#262626" stroke-width="0.9"/>
<line x1="511.25" y1="519.67" x2="518.55" y2="519.67" stroke="#262626" stroke-width="1.4"/>
<circle cx="514.90" cy="525.2" r="1.85" fill="#262626"/>
<line x1="523.26" y1="489.4" x2="523.26" y2="494.0" stroke="#262626" stroke-width="1.0"/>
<rect x="519.56" y="491.40" width="7.4" height="1.70" fill="#EFB77F" stroke="#262626" stroke-width="0.9"/>
<line x1="519.61" y1="492.93" x2="526.91" y2="492.93" stroke="#262626" stroke-width="1.4"/>
<circle cx="523.26" cy="497.9" r="1.85" fill="#262626"/>
<line x1="531.62" y1="497.0" x2="531.62" y2="501.6" stroke="#262626" stroke-width="1.0"/>
<rect x="527.92" y="498.40" width="7.4" height="2.30" fill="#D68FC3" stroke="#262626" stroke-width="0.9"/>
<line x1="527.97" y1="498.72" x2="535.27" y2="498.72" stroke="#262626" stroke-width="1.4"/>
<circle cx="531.62" cy="506.0" r="1.85" fill="#262626"/>
<line x1="539.98" y1="510.5" x2="539.98" y2="516.3" stroke="#262626" stroke-width="1.0"/>
<rect x="536.28" y="511.40" width="7.4" height="1.60" fill="#81D77E" stroke="#262626" stroke-width="0.9"/>
<line x1="536.33" y1="511.55" x2="543.63" y2="511.55" stroke="#262626" stroke-width="1.4"/>
<line x1="35" y1="638.3" x2="37.6" y2="638.3" stroke="#333" stroke-width="0.8"/>
<text x="33.4" y="642.25" text-anchor="end" font-size="10.1" fill="#333" stroke="#333" stroke-width="0.15">0.20</text>
<line x1="35" y1="599.9" x2="37.6" y2="599.9" stroke="#333" stroke-width="0.8"/>
<text x="33.4" y="603.85" text-anchor="end" font-size="10.1" fill="#333" stroke="#333" stroke-width="0.15">0.25</text>
<line x1="35" y1="561.2" x2="37.6" y2="561.2" stroke="#333" stroke-width="0.8"/>
<text x="33.4" y="565.15" text-anchor="end" font-size="10.1" fill="#333" stroke="#333" stroke-width="0.15">0.30</text>
<line x1="35" y1="522.5" x2="37.6" y2="522.5" stroke="#333" stroke-width="0.8"/>
<text x="33.4" y="526.45" text-anchor="end" font-size="10.1" fill="#333" stroke="#333" stroke-width="0.15">0.35</text>
<line x1="35" y1="484.0" x2="37.6" y2="484.0" stroke="#333" stroke-width="0.8"/>
<text x="33.4" y="487.95" text-anchor="end" font-size="10.1" fill="#333" stroke="#333" stroke-width="0.15">0.40</text>
<rect x="575" y="526.9" width="14" height="14" fill="#F2F2F2"/>
<line x1="582.1" y1="528.1" x2="582.1" y2="539.7" stroke="#555" stroke-width="0.75"/>
<rect x="576.6" y="530.4" width="11" height="6.9" fill="#D4A528" stroke="#262626" stroke-width="0.75"/>
<line x1="576.6" y1="533.9" x2="587.6" y2="533.9" stroke="#262626" stroke-width="1.3"/>
<text x="595.5" y="537.05" font-size="10.3" fill="#111" stroke="#111" stroke-width="0.15">PRSice-2(C+T)</text>
<rect x="575" y="540.9" width="14" height="14" fill="#F2F2F2"/>
<line x1="582.1" y1="542.1" x2="582.1" y2="553.7" stroke="#555" stroke-width="0.75"/>
<rect x="576.6" y="544.4" width="11" height="6.9" fill="#4088BE" stroke="#262626" stroke-width="0.75"/>
<line x1="576.6" y1="547.9" x2="587.6" y2="547.9" stroke="#262626" stroke-width="1.3"/>
<text x="595.5" y="551.05" font-size="10.3" fill="#111" stroke="#111" stroke-width="0.15">STGBLUP</text>
<rect x="575" y="554.9" width="14" height="14" fill="#F2F2F2"/>
<line x1="582.1" y1="556.1" x2="582.1" y2="567.7" stroke="#555" stroke-width="0.75"/>
<rect x="576.6" y="558.4" width="11" height="6.9" fill="#F96A66" stroke="#262626" stroke-width="0.75"/>
<line x1="576.6" y1="561.9" x2="587.6" y2="561.9" stroke="#262626" stroke-width="1.3"/>
<text x="595.5" y="565.05" font-size="10.3" fill="#111" stroke="#111" stroke-width="0.15">wMT-BLUP</text>
<rect x="575" y="568.9" width="14" height="14" fill="#F2F2F2"/>
<line x1="582.1" y1="570.1" x2="582.1" y2="581.7" stroke="#555" stroke-width="0.75"/>
<rect x="576.6" y="572.4" width="11" height="6.9" fill="#BF212E" stroke="#262626" stroke-width="0.75"/>
<line x1="576.6" y1="575.9" x2="587.6" y2="575.9" stroke="#262626" stroke-width="1.3"/>
<text x="595.5" y="579.05" font-size="10.3" fill="#111" stroke="#111" stroke-width="0.15">MTGBLUP</text>
<rect x="575" y="582.9" width="14" height="14" fill="#F2F2F2"/>
<line x1="582.1" y1="584.1" x2="582.1" y2="595.7" stroke="#555" stroke-width="0.75"/>
<rect x="576.6" y="586.4" width="11" height="6.9" fill="#EFB77F" stroke="#262626" stroke-width="0.75"/>
<line x1="576.6" y1="589.9" x2="587.6" y2="589.9" stroke="#262626" stroke-width="1.3"/>
<text x="595.5" y="593.05" font-size="10.3" fill="#111" stroke="#111" stroke-width="0.15">LGC-model-1(0.01)</text>
<rect x="575" y="596.9" width="14" height="14" fill="#F2F2F2"/>
<line x1="582.1" y1="598.1" x2="582.1" y2="609.7" stroke="#555" stroke-width="0.75"/>
<rect x="576.6" y="600.4" width="11" height="6.9" fill="#D68FC3" stroke="#262626" stroke-width="0.75"/>
<line x1="576.6" y1="603.9" x2="587.6" y2="603.9" stroke="#262626" stroke-width="1.3"/>
<text x="595.5" y="607.05" font-size="10.3" fill="#111" stroke="#111" stroke-width="0.15">LGC-model-2(0.5)</text>
<rect x="575" y="610.9" width="14" height="14" fill="#F2F2F2"/>
<line x1="582.1" y1="612.1" x2="582.1" y2="623.7" stroke="#555" stroke-width="0.75"/>
<rect x="576.6" y="614.4" width="11" height="6.9" fill="#81D77E" stroke="#262626" stroke-width="0.75"/>
<line x1="576.6" y1="617.9" x2="587.6" y2="617.9" stroke="#262626" stroke-width="1.3"/>
<text x="595.5" y="621.05" font-size="10.3" fill="#111" stroke="#111" stroke-width="0.15">LGC-model-3(0.01)</text>
<text transform="translate(2.6 714.3) scale(1.0 1)" font-size="19.3" font-weight="bold" fill="#000">d</text>
<text transform="translate(10.2 804.0) rotate(-90)" text-anchor="middle" font-size="13" fill="#000">Prediction accuracy</text>
<rect x="37" y="697" width="172" height="16.5" fill="#D9D9D9"/>
<text x="123.0" y="708.9" text-anchor="middle" font-size="10.3" font-weight="bold" fill="#1A1A1A">Cow: MY and FP</text>
<rect x="37.5" y="713.5" width="171" height="182.0" fill="#FFF" stroke="#DCDCDC" stroke-width="1"/>
<line x1="84.35" y1="895.4" x2="84.35" y2="897.6" stroke="#333" stroke-width="0.8"/>
<text x="84.35" y="906.7" text-anchor="middle" font-size="10.4" fill="#333" stroke="#333" stroke-width="0.15">MY</text>
<line x1="162.35" y1="895.4" x2="162.35" y2="897.6" stroke="#333" stroke-width="0.8"/>
<text x="162.35" y="906.7" text-anchor="middle" font-size="10.4" fill="#333" stroke="#333" stroke-width="0.15">FP</text>
<line x1="59.27" y1="880.3" x2="59.27" y2="887.2" stroke="#262626" stroke-width="1.0"/>
<rect x="55.57" y="882.90" width="7.4" height="2.30" fill="#D4A528" stroke="#262626" stroke-width="0.9"/>
<line x1="55.62" y1="883.23" x2="62.92" y2="883.23" stroke="#262626" stroke-width="1.4"/>
<line x1="67.63" y1="826.0" x2="67.63" y2="832.2" stroke="#262626" stroke-width="1.0"/>
<rect x="63.93" y="828.70" width="7.4" height="2.30" fill="#4088BE" stroke="#262626" stroke-width="0.9"/>
<line x1="63.98" y1="830.67" x2="71.28" y2="830.67" stroke="#262626" stroke-width="1.4"/>
<line x1="75.99" y1="833.7" x2="75.99" y2="840.1" stroke="#262626" stroke-width="1.0"/>
<rect x="72.29" y="836.70" width="7.4" height="2.10" fill="#F96A66" stroke="#262626" stroke-width="0.9"/>
<line x1="72.34" y1="838.52" x2="79.64" y2="838.52" stroke="#262626" stroke-width="1.4"/>
<line x1="84.35" y1="823.3" x2="84.35" y2="830.2" stroke="#262626" stroke-width="1.0"/>
<rect x="80.65" y="826.70" width="7.4" height="2.30" fill="#BF212E" stroke="#262626" stroke-width="0.9"/>
<line x1="80.70" y1="828.67" x2="88.00" y2="828.67" stroke="#262626" stroke-width="1.4"/>
<line x1="92.71" y1="806.8" x2="92.71" y2="809.8" stroke="#262626" stroke-width="1.0"/>
<rect x="89.01" y="807.45" width="7.4" height="1.60" fill="#EFB77F" stroke="#262626" stroke-width="0.9"/>
<line x1="89.06" y1="808.25" x2="96.36" y2="808.25" stroke="#262626" stroke-width="1.4"/>
<line x1="101.07" y1="811.4" x2="101.07" y2="816.6" stroke="#262626" stroke-width="1.0"/>
<rect x="97.37" y="813.40" width="7.4" height="2.20" fill="#AA55AA" stroke="#262626" stroke-width="0.9"/>
<line x1="97.42" y1="815.30" x2="104.72" y2="815.30" stroke="#262626" stroke-width="1.4"/>
<line x1="109.43" y1="817.0" x2="109.43" y2="823.6" stroke="#262626" stroke-width="1.0"/>
<rect x="105.73" y="819.60" width="7.4" height="2.20" fill="#81D77E" stroke="#262626" stroke-width="0.9"/>
<line x1="105.78" y1="819.90" x2="113.08" y2="819.90" stroke="#262626" stroke-width="1.4"/>
<line x1="137.27" y1="859.4" x2="137.27" y2="864.8" stroke="#262626" stroke-width="1.0"/>
<rect x="133.57" y="860.90" width="7.4" height="2.00" fill="#D4A528" stroke="#262626" stroke-width="0.9"/>
<line x1="133.62" y1="861.15" x2="140.92" y2="861.15" stroke="#262626" stroke-width="1.4"/>
<line x1="145.63" y1="788.1" x2="145.63" y2="796.7" stroke="#262626" stroke-width="1.0"/>
<rect x="141.93" y="790.70" width="7.4" height="2.60" fill="#4088BE" stroke="#262626" stroke-width="0.9"/>
<line x1="141.98" y1="791.10" x2="149.28" y2="791.10" stroke="#262626" stroke-width="1.4"/>
<line x1="153.99" y1="802.0" x2="153.99" y2="809.3" stroke="#262626" stroke-width="1.0"/>
<rect x="150.29" y="803.80" width="7.4" height="2.10" fill="#F96A66" stroke="#262626" stroke-width="0.9"/>
<line x1="150.34" y1="804.07" x2="157.64" y2="804.07" stroke="#262626" stroke-width="1.4"/>
<line x1="162.35" y1="788.1" x2="162.35" y2="796.7" stroke="#262626" stroke-width="1.0"/>
<rect x="158.65" y="790.70" width="7.4" height="2.60" fill="#BF212E" stroke="#262626" stroke-width="0.9"/>
<line x1="158.70" y1="791.10" x2="166.00" y2="791.10" stroke="#262626" stroke-width="1.4"/>
<line x1="170.71" y1="748.4" x2="170.71" y2="756.7" stroke="#262626" stroke-width="1.0"/>
<rect x="167.01" y="751.80" width="7.4" height="2.60" fill="#EFB77F" stroke="#262626" stroke-width="0.9"/>
<line x1="167.06" y1="753.10" x2="174.36" y2="753.10" stroke="#262626" stroke-width="1.4"/>
<line x1="179.07" y1="771.3" x2="179.07" y2="779.9" stroke="#262626" stroke-width="1.0"/>
<rect x="175.37" y="773.70" width="7.4" height="3.60" fill="#AA55AA" stroke="#262626" stroke-width="0.9"/>
<line x1="175.42" y1="774.30" x2="182.72" y2="774.30" stroke="#262626" stroke-width="1.4"/>
<line x1="187.43" y1="781.4" x2="187.43" y2="787.5" stroke="#262626" stroke-width="1.0"/>
<rect x="183.73" y="783.60" width="7.4" height="2.00" fill="#81D77E" stroke="#262626" stroke-width="0.9"/>
<line x1="183.78" y1="783.85" x2="191.08" y2="783.85" stroke="#262626" stroke-width="1.4"/>
<circle cx="187.43" cy="777.8" r="1.85" fill="#262626"/>
<rect x="214" y="697" width="172" height="16.5" fill="#D9D9D9"/>
<text x="300.0" y="708.9" text-anchor="middle" font-size="10.3" font-weight="bold" fill="#1A1A1A">Cow: MY and PP</text>
<rect x="214.5" y="713.5" width="171" height="182.0" fill="#FFF" stroke="#DCDCDC" stroke-width="1"/>
<line x1="260.45" y1="895.4" x2="260.45" y2="897.6" stroke="#333" stroke-width="0.8"/>
<text x="260.45" y="906.7" text-anchor="middle" font-size="10.4" fill="#333" stroke="#333" stroke-width="0.15">MY</text>
<line x1="338.35" y1="895.4" x2="338.35" y2="897.6" stroke="#333" stroke-width="0.8"/>
<text x="338.35" y="906.7" text-anchor="middle" font-size="10.4" fill="#333" stroke="#333" stroke-width="0.15">PP</text>
<line x1="235.37" y1="880.1" x2="235.37" y2="887.3" stroke="#262626" stroke-width="1.0"/>
<rect x="231.67" y="883.00" width="7.4" height="2.30" fill="#D4A528" stroke="#262626" stroke-width="0.9"/>
<line x1="231.72" y1="883.33" x2="239.02" y2="883.33" stroke="#262626" stroke-width="1.4"/>
<line x1="243.73" y1="826.1" x2="243.73" y2="832.2" stroke="#262626" stroke-width="1.0"/>
<rect x="240.03" y="828.60" width="7.4" height="2.30" fill="#4088BE" stroke="#262626" stroke-width="0.9"/>
<line x1="240.08" y1="830.58" x2="247.38" y2="830.58" stroke="#262626" stroke-width="1.4"/>
<line x1="252.09" y1="833.6" x2="252.09" y2="838.8" stroke="#262626" stroke-width="1.0"/>
<rect x="248.39" y="835.65" width="7.4" height="1.60" fill="#F96A66" stroke="#262626" stroke-width="0.9"/>
<line x1="248.44" y1="836.45" x2="255.74" y2="836.45" stroke="#262626" stroke-width="1.4"/>
<line x1="260.45" y1="821.2" x2="260.45" y2="827.0" stroke="#262626" stroke-width="1.0"/>
<rect x="256.75" y="823.70" width="7.4" height="2.30" fill="#BF212E" stroke="#262626" stroke-width="0.9"/>
<line x1="256.80" y1="825.67" x2="264.10" y2="825.67" stroke="#262626" stroke-width="1.4"/>
<line x1="268.81" y1="799.7" x2="268.81" y2="803.9" stroke="#262626" stroke-width="1.0"/>
<rect x="265.11" y="801.35" width="7.4" height="1.60" fill="#EFB77F" stroke="#262626" stroke-width="0.9"/>
<line x1="265.16" y1="802.15" x2="272.46" y2="802.15" stroke="#262626" stroke-width="1.4"/>
<line x1="277.17" y1="810.5" x2="277.17" y2="814.2" stroke="#262626" stroke-width="1.0"/>
<rect x="273.47" y="811.40" width="7.4" height="1.80" fill="#AA55AA" stroke="#262626" stroke-width="0.9"/>
<line x1="273.52" y1="812.30" x2="280.82" y2="812.30" stroke="#262626" stroke-width="1.4"/>
<circle cx="277.17" cy="807.2" r="1.85" fill="#262626"/>
<line x1="285.53" y1="812.6" x2="285.53" y2="818.4" stroke="#262626" stroke-width="1.0"/>
<rect x="281.83" y="814.70" width="7.4" height="2.50" fill="#81D77E" stroke="#262626" stroke-width="0.9"/>
<line x1="281.88" y1="815.08" x2="289.18" y2="815.08" stroke="#262626" stroke-width="1.4"/>
<line x1="313.27" y1="815.0" x2="313.27" y2="821.6" stroke="#262626" stroke-width="1.0"/>
<rect x="309.57" y="817.60" width="7.4" height="2.30" fill="#D4A528" stroke="#262626" stroke-width="0.9"/>
<line x1="309.62" y1="818.75" x2="316.92" y2="818.75" stroke="#262626" stroke-width="1.4"/>
<line x1="321.63" y1="747.1" x2="321.63" y2="753.0" stroke="#262626" stroke-width="1.0"/>
<rect x="317.93" y="749.40" width="7.4" height="2.70" fill="#4088BE" stroke="#262626" stroke-width="0.9"/>
<line x1="317.98" y1="751.67" x2="325.28" y2="751.67" stroke="#262626" stroke-width="1.4"/>
<circle cx="321.63" cy="757.2" r="1.85" fill="#262626"/>
<line x1="329.99" y1="763.0" x2="329.99" y2="767.3" stroke="#262626" stroke-width="1.0"/>
<rect x="326.29" y="764.00" width="7.4" height="2.40" fill="#F96A66" stroke="#262626" stroke-width="0.9"/>
<line x1="326.34" y1="765.20" x2="333.64" y2="765.20" stroke="#262626" stroke-width="1.4"/>
<circle cx="329.99" cy="759.6" r="1.85" fill="#262626"/>
<circle cx="329.99" cy="770.5" r="1.85" fill="#262626"/>
<line x1="338.35" y1="747.1" x2="338.35" y2="753.0" stroke="#262626" stroke-width="1.0"/>
<rect x="334.65" y="749.40" width="7.4" height="2.70" fill="#BF212E" stroke="#262626" stroke-width="0.9"/>
<line x1="334.70" y1="751.67" x2="342.00" y2="751.67" stroke="#262626" stroke-width="1.4"/>
<circle cx="338.35" cy="757.2" r="1.85" fill="#262626"/>
<line x1="346.71" y1="724.1" x2="346.71" y2="732.6" stroke="#262626" stroke-width="1.0"/>
<rect x="343.01" y="726.40" width="7.4" height="2.90" fill="#EFB77F" stroke="#262626" stroke-width="0.9"/>
<line x1="343.06" y1="726.88" x2="350.36" y2="726.88" stroke="#262626" stroke-width="1.4"/>
<line x1="355.07" y1="735.0" x2="355.07" y2="742.0" stroke="#262626" stroke-width="1.0"/>
<rect x="351.37" y="736.70" width="7.4" height="3.50" fill="#AA55AA" stroke="#262626" stroke-width="0.9"/>
<line x1="351.42" y1="739.60" x2="358.72" y2="739.60" stroke="#262626" stroke-width="1.4"/>
<circle cx="355.07" cy="745.9" r="1.85" fill="#262626"/>
<line x1="363.43" y1="743.3" x2="363.43" y2="750.5" stroke="#262626" stroke-width="1.0"/>
<rect x="359.73" y="745.00" width="7.4" height="4.10" fill="#81D77E" stroke="#262626" stroke-width="0.9"/>
<line x1="359.78" y1="745.60" x2="367.08" y2="745.60" stroke="#262626" stroke-width="1.4"/>
<rect x="390" y="697" width="172" height="16.5" fill="#D9D9D9"/>
<text x="476.0" y="708.9" text-anchor="middle" font-size="10.3" font-weight="bold" fill="#1A1A1A">Cow: FP and PP</text>
<rect x="390.5" y="713.5" width="171" height="182.0" fill="#FFF" stroke="#DCDCDC" stroke-width="1"/>
<line x1="436.60" y1="895.4" x2="436.60" y2="897.6" stroke="#333" stroke-width="0.8"/>
<text x="436.60" y="906.7" text-anchor="middle" font-size="10.4" fill="#333" stroke="#333" stroke-width="0.15">FP</text>
<line x1="514.90" y1="895.4" x2="514.90" y2="897.6" stroke="#333" stroke-width="0.8"/>
<text x="514.90" y="906.7" text-anchor="middle" font-size="10.4" fill="#333" stroke="#333" stroke-width="0.15">PP</text>
<line x1="411.52" y1="859.2" x2="411.52" y2="864.9" stroke="#262626" stroke-width="1.0"/>
<rect x="407.82" y="860.80" width="7.4" height="2.20" fill="#D4A528" stroke="#262626" stroke-width="0.9"/>
<line x1="407.87" y1="861.10" x2="415.17" y2="861.10" stroke="#262626" stroke-width="1.4"/>
<line x1="419.88" y1="787.8" x2="419.88" y2="796.4" stroke="#262626" stroke-width="1.0"/>
<rect x="416.18" y="790.60" width="7.4" height="2.60" fill="#4088BE" stroke="#262626" stroke-width="0.9"/>
<line x1="416.23" y1="791.00" x2="423.53" y2="791.00" stroke="#262626" stroke-width="1.4"/>
<line x1="428.24" y1="798.3" x2="428.24" y2="807.5" stroke="#262626" stroke-width="1.0"/>
<rect x="424.54" y="800.60" width="7.4" height="3.40" fill="#F96A66" stroke="#262626" stroke-width="0.9"/>
<line x1="424.59" y1="801.20" x2="431.89" y2="801.20" stroke="#262626" stroke-width="1.4"/>
<line x1="436.60" y1="786.0" x2="436.60" y2="792.6" stroke="#262626" stroke-width="1.0"/>
<rect x="432.90" y="789.10" width="7.4" height="2.50" fill="#BF212E" stroke="#262626" stroke-width="0.9"/>
<line x1="432.95" y1="789.48" x2="440.25" y2="789.48" stroke="#262626" stroke-width="1.4"/>
<circle cx="436.60" cy="796.3" r="1.85" fill="#262626"/>
<line x1="444.96" y1="743.6" x2="444.96" y2="747.4" stroke="#262626" stroke-width="1.0"/>
<rect x="441.26" y="744.50" width="7.4" height="2.00" fill="#EFB77F" stroke="#262626" stroke-width="0.9"/>
<line x1="441.31" y1="745.50" x2="448.61" y2="745.50" stroke="#262626" stroke-width="1.4"/>
<circle cx="444.96" cy="740.8" r="1.85" fill="#262626"/>
<circle cx="444.96" cy="750.0" r="1.85" fill="#262626"/>
<line x1="453.32" y1="750.0" x2="453.32" y2="753.0" stroke="#262626" stroke-width="1.0"/>
<rect x="449.62" y="750.55" width="7.4" height="1.60" fill="#AA55AA" stroke="#262626" stroke-width="0.9"/>
<line x1="449.67" y1="751.35" x2="456.97" y2="751.35" stroke="#262626" stroke-width="1.4"/>
<circle cx="453.32" cy="746.3" r="1.85" fill="#262626"/>
<circle cx="453.32" cy="756.2" r="1.85" fill="#262626"/>
<line x1="461.68" y1="771.0" x2="461.68" y2="774.0" stroke="#262626" stroke-width="1.0"/>
<rect x="457.98" y="771.65" width="7.4" height="1.60" fill="#81D77E" stroke="#262626" stroke-width="0.9"/>
<line x1="458.03" y1="772.45" x2="465.33" y2="772.45" stroke="#262626" stroke-width="1.4"/>
<line x1="489.82" y1="815.0" x2="489.82" y2="821.6" stroke="#262626" stroke-width="1.0"/>
<rect x="486.12" y="817.60" width="7.4" height="2.30" fill="#D4A528" stroke="#262626" stroke-width="0.9"/>
<line x1="486.17" y1="818.75" x2="493.47" y2="818.75" stroke="#262626" stroke-width="1.4"/>
<line x1="498.18" y1="746.9" x2="498.18" y2="753.0" stroke="#262626" stroke-width="1.0"/>
<rect x="494.48" y="749.40" width="7.4" height="2.70" fill="#4088BE" stroke="#262626" stroke-width="0.9"/>
<line x1="494.53" y1="751.67" x2="501.83" y2="751.67" stroke="#262626" stroke-width="1.4"/>
<circle cx="498.18" cy="757.2" r="1.85" fill="#262626"/>
<line x1="506.54" y1="761.9" x2="506.54" y2="768.8" stroke="#262626" stroke-width="1.0"/>
<rect x="502.84" y="765.40" width="7.4" height="2.40" fill="#F96A66" stroke="#262626" stroke-width="0.9"/>
<line x1="502.89" y1="766.60" x2="510.19" y2="766.60" stroke="#262626" stroke-width="1.4"/>
<circle cx="506.54" cy="772.2" r="1.85" fill="#262626"/>
<line x1="514.90" y1="746.9" x2="514.90" y2="753.0" stroke="#262626" stroke-width="1.0"/>
<rect x="511.20" y="749.40" width="7.4" height="2.70" fill="#BF212E" stroke="#262626" stroke-width="0.9"/>
<line x1="511.25" y1="751.67" x2="518.55" y2="751.67" stroke="#262626" stroke-width="1.4"/>
<circle cx="514.90" cy="757.2" r="1.85" fill="#262626"/>
<line x1="523.26" y1="721.4" x2="523.26" y2="726.0" stroke="#262626" stroke-width="1.0"/>
<rect x="519.56" y="723.40" width="7.4" height="1.70" fill="#EFB77F" stroke="#262626" stroke-width="0.9"/>
<line x1="519.61" y1="724.92" x2="526.91" y2="724.92" stroke="#262626" stroke-width="1.4"/>
<circle cx="523.26" cy="729.9" r="1.85" fill="#262626"/>
<line x1="531.62" y1="726.0" x2="531.62" y2="729.8" stroke="#262626" stroke-width="1.0"/>
<rect x="527.92" y="727.00" width="7.4" height="1.80" fill="#AA55AA" stroke="#262626" stroke-width="0.9"/>
<line x1="527.97" y1="727.20" x2="535.27" y2="727.20" stroke="#262626" stroke-width="1.4"/>
<circle cx="531.62" cy="733.6" r="1.85" fill="#262626"/>
<line x1="539.98" y1="742.5" x2="539.98" y2="748.3" stroke="#262626" stroke-width="1.0"/>
<rect x="536.28" y="743.40" width="7.4" height="1.60" fill="#81D77E" stroke="#262626" stroke-width="0.9"/>
<line x1="536.33" y1="743.55" x2="543.63" y2="743.55" stroke="#262626" stroke-width="1.4"/>
<line x1="35" y1="870.3" x2="37.6" y2="870.3" stroke="#333" stroke-width="0.8"/>
<text x="33.4" y="874.25" text-anchor="end" font-size="10.1" fill="#333" stroke="#333" stroke-width="0.15">0.20</text>
<line x1="35" y1="831.9" x2="37.6" y2="831.9" stroke="#333" stroke-width="0.8"/>
<text x="33.4" y="835.85" text-anchor="end" font-size="10.1" fill="#333" stroke="#333" stroke-width="0.15">0.25</text>
<line x1="35" y1="793.2" x2="37.6" y2="793.2" stroke="#333" stroke-width="0.8"/>
<text x="33.4" y="797.15" text-anchor="end" font-size="10.1" fill="#333" stroke="#333" stroke-width="0.15">0.30</text>
<line x1="35" y1="754.5" x2="37.6" y2="754.5" stroke="#333" stroke-width="0.8"/>
<text x="33.4" y="758.45" text-anchor="end" font-size="10.1" fill="#333" stroke="#333" stroke-width="0.15">0.35</text>
<line x1="35" y1="716.0" x2="37.6" y2="716.0" stroke="#333" stroke-width="0.8"/>
<text x="33.4" y="719.95" text-anchor="end" font-size="10.1" fill="#333" stroke="#333" stroke-width="0.15">0.40</text>
<rect x="575" y="758.9" width="14" height="14" fill="#F2F2F2"/>
<line x1="582.1" y1="760.1" x2="582.1" y2="771.7" stroke="#555" stroke-width="0.75"/>
<rect x="576.6" y="762.4" width="11" height="6.9" fill="#D4A528" stroke="#262626" stroke-width="0.75"/>
<line x1="576.6" y1="765.9" x2="587.6" y2="765.9" stroke="#262626" stroke-width="1.3"/>
<text x="595.5" y="769.05" font-size="10.3" fill="#111" stroke="#111" stroke-width="0.15">PRSice-2(C+T)</text>
<rect x="575" y="772.9" width="14" height="14" fill="#F2F2F2"/>
<line x1="582.1" y1="774.1" x2="582.1" y2="785.7" stroke="#555" stroke-width="0.75"/>
<rect x="576.6" y="776.4" width="11" height="6.9" fill="#4088BE" stroke="#262626" stroke-width="0.75"/>
<line x1="576.6" y1="779.9" x2="587.6" y2="779.9" stroke="#262626" stroke-width="1.3"/>
<text x="595.5" y="783.05" font-size="10.3" fill="#111" stroke="#111" stroke-width="0.15">STGBLUP</text>
<rect x="575" y="786.9" width="14" height="14" fill="#F2F2F2"/>
<line x1="582.1" y1="788.1" x2="582.1" y2="799.7" stroke="#555" stroke-width="0.75"/>
<rect x="576.6" y="790.4" width="11" height="6.9" fill="#F96A66" stroke="#262626" stroke-width="0.75"/>
<line x1="576.6" y1="793.9" x2="587.6" y2="793.9" stroke="#262626" stroke-width="1.3"/>
<text x="595.5" y="797.05" font-size="10.3" fill="#111" stroke="#111" stroke-width="0.15">wMT-BLUP</text>
<rect x="575" y="800.9" width="14" height="14" fill="#F2F2F2"/>
<line x1="582.1" y1="802.1" x2="582.1" y2="813.7" stroke="#555" stroke-width="0.75"/>
<rect x="576.6" y="804.4" width="11" height="6.9" fill="#BF212E" stroke="#262626" stroke-width="0.75"/>
<line x1="576.6" y1="807.9" x2="587.6" y2="807.9" stroke="#262626" stroke-width="1.3"/>
<text x="595.5" y="811.05" font-size="10.3" fill="#111" stroke="#111" stroke-width="0.15">MTGBLUP</text>
<rect x="575" y="814.9" width="14" height="14" fill="#F2F2F2"/>
<line x1="582.1" y1="816.1" x2="582.1" y2="827.7" stroke="#555" stroke-width="0.75"/>
<rect x="576.6" y="818.4" width="11" height="6.9" fill="#EFB77F" stroke="#262626" stroke-width="0.75"/>
<line x1="576.6" y1="821.9" x2="587.6" y2="821.9" stroke="#262626" stroke-width="1.3"/>
<text x="595.5" y="825.05" font-size="10.3" fill="#111" stroke="#111" stroke-width="0.15">LGC-model-1(0.01)</text>
<rect x="575" y="828.9" width="14" height="14" fill="#F2F2F2"/>
<line x1="582.1" y1="830.1" x2="582.1" y2="841.7" stroke="#555" stroke-width="0.75"/>
<rect x="576.6" y="832.4" width="11" height="6.9" fill="#AA55AA" stroke="#262626" stroke-width="0.75"/>
<line x1="576.6" y1="835.9" x2="587.6" y2="835.9" stroke="#262626" stroke-width="1.3"/>
<text x="595.5" y="839.05" font-size="10.3" fill="#111" stroke="#111" stroke-width="0.15">LGC-model-2(0.6)</text>
<rect x="575" y="842.9" width="14" height="14" fill="#F2F2F2"/>
<line x1="582.1" y1="844.1" x2="582.1" y2="855.7" stroke="#555" stroke-width="0.75"/>
<rect x="576.6" y="846.4" width="11" height="6.9" fill="#81D77E" stroke="#262626" stroke-width="0.75"/>
<line x1="576.6" y1="849.9" x2="587.6" y2="849.9" stroke="#262626" stroke-width="1.3"/>
<text x="595.5" y="853.05" font-size="10.3" fill="#111" stroke="#111" stroke-width="0.15">LGC-model-3(0.01)</text>
</svg></body></html>
